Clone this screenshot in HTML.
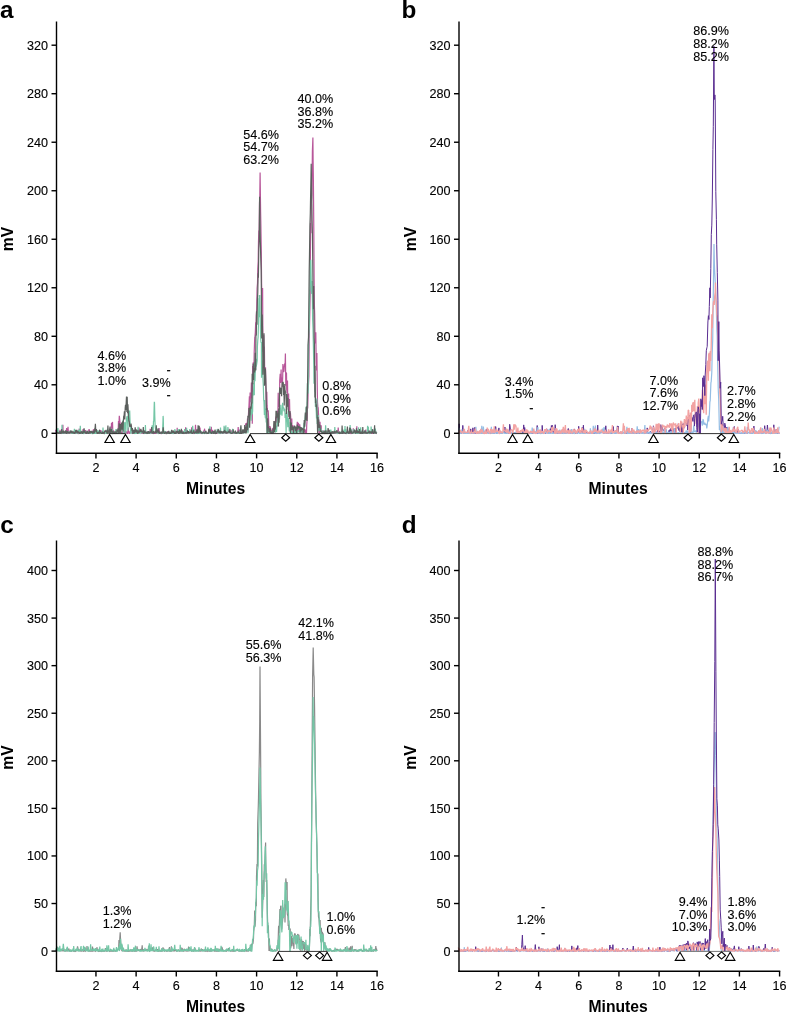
<!DOCTYPE html>
<html><head><meta charset="utf-8"><style>
html,body{margin:0;padding:0;background:#fff;}
svg{display:block;will-change:transform;filter:blur(0.3px);}
.t{font-family:"Liberation Sans", sans-serif;font-size:12.6px;fill:#000;stroke:#000;stroke-width:0.12px;}
.b{font-family:"Liberation Sans", sans-serif;font-size:15.7px;font-weight:bold;fill:#000;}
.L{font-family:"Liberation Sans", sans-serif;font-size:24.3px;font-weight:bold;fill:#000;}
</style></head><body>
<svg width="787" height="1013" viewBox="0 0 787 1013">
<rect width="787" height="1013" fill="#fff"/>
<path d="M55.7,429.7 56.1,433.3 56.5,433.3 56.8,432.9 57.1,432.0 57.6,432.5 57.8,433.3 58.2,432.9 58.7,433.1 59.0,432.1 59.3,433.3 59.7,432.3 60.0,429.8 60.3,431.8 60.6,433.3 61.1,433.1 61.4,433.3 61.8,431.7 62.2,433.3 62.5,431.8 62.9,424.7 63.1,433.0 63.5,433.3 63.8,433.2 64.2,431.6 64.6,432.6 64.8,432.9 65.3,433.3 65.7,433.0 65.9,432.3 66.3,432.2 66.6,428.0 66.9,432.7 67.4,433.2 67.7,432.4 68.0,426.7 68.4,432.8 68.7,433.3 69.2,433.2 69.4,430.9 69.7,433.3 70.1,431.7 70.5,431.0 70.8,432.3 71.3,433.3 71.6,433.3 71.9,432.6 72.1,433.3 72.5,431.7 73.1,433.0 73.3,433.0 73.7,431.7 73.9,433.3 74.3,433.3 74.8,433.0 75.1,433.3 75.4,433.3 75.7,433.3 76.0,433.0 76.4,432.9 76.7,432.9 77.2,433.3 77.5,432.3 77.8,433.0 78.3,432.5 78.5,433.3 78.8,431.7 79.3,428.7 79.7,431.9 79.9,431.8 80.4,433.2 80.6,433.3 80.9,432.9 81.2,432.7 81.7,433.2 82.1,432.6 82.4,433.3 82.8,433.3 83.0,429.2 83.4,429.8 83.7,431.9 84.3,432.8 84.6,432.9 84.8,433.3 85.2,433.3 85.5,430.1 86.0,432.0 86.2,433.2 86.5,433.3 86.9,431.9 87.2,432.9 87.7,432.2 88.1,433.3 88.4,433.2 88.7,430.7 89.1,429.2 89.5,431.4 89.8,433.3 90.0,432.6 90.5,433.3 90.7,433.2 91.1,431.9 91.6,433.3 91.9,432.0 92.3,430.9 92.5,432.8 92.9,433.0 93.2,429.9 93.7,429.4 93.9,433.3 94.2,433.3 94.6,431.3 94.9,433.3 95.4,433.3 95.7,432.5 96.0,432.4 96.4,432.5 96.7,432.4 97.1,433.3 97.4,432.7 97.7,433.3 98.1,432.5 98.5,431.7 98.9,431.5 99.2,431.7 99.6,433.0 99.9,431.9 100.2,430.1 100.6,432.8 100.9,432.2 101.4,430.5 101.6,433.3 101.9,433.2 102.4,433.3 102.8,433.3 103.1,432.8 103.4,433.2 103.7,433.3 104.2,433.3 104.5,432.0 104.7,430.7 105.1,432.3 105.4,430.8 105.9,433.3 106.2,432.1 106.6,432.6 107.0,431.4 107.2,433.3 107.7,433.3 107.9,433.0 108.2,432.1 108.6,433.3 109.0,432.4 109.3,432.7 109.7,433.3 110.1,433.3 110.3,433.3 110.8,432.9 111.1,432.4 111.5,422.8 111.8,433.3 112.2,427.7 112.5,421.9 112.9,433.3 113.2,431.1 113.6,430.3 113.8,433.3 114.4,433.3 114.5,432.6 114.9,432.4 115.3,433.0 115.6,433.2 115.9,431.3 116.4,433.3 116.8,430.5 117.1,431.0 117.5,433.3 117.8,433.3 118.1,433.3 118.5,421.1 118.8,427.4 119.3,415.9 119.5,417.5 119.8,420.5 120.3,424.7 120.6,431.7 121.0,433.3 121.3,432.8 121.7,432.8 121.9,433.1 122.3,432.8 122.6,433.3 123.0,431.2 123.4,433.3 123.7,433.3 124.1,429.1 124.4,433.3 124.8,432.5 125.0,431.9 125.5,431.4 125.8,432.5 126.1,432.9 126.5,432.1 126.8,431.7 127.2,433.3 127.6,433.3 127.8,433.3 128.3,427.6 128.6,431.6 129.0,431.1 129.3,433.3 129.6,433.3 130.0,432.8 130.4,433.2 130.6,431.7 130.9,426.3 131.3,431.7 131.7,432.9 132.2,432.6 132.4,433.3 132.9,433.0 133.2,432.8 133.4,432.9 133.8,433.0 134.1,433.3 134.6,432.5 134.9,433.3 135.2,432.9 135.5,433.3 136.0,432.8 136.4,429.5 136.6,433.1 137.0,433.3 137.4,433.3 137.8,430.3 138.0,432.0 138.3,430.1 138.7,433.2 139.1,427.6 139.4,432.5 139.7,432.9 140.1,432.3 140.5,429.3 140.9,432.9 141.2,433.0 141.5,432.0 141.8,433.3 142.2,433.3 142.7,432.8 143.0,433.3 143.3,433.3 143.7,433.3 144.1,431.7 144.3,433.3 144.8,432.0 145.0,433.3 145.3,433.1 145.8,433.2 146.0,432.8 146.5,433.3 146.9,432.6 147.2,431.3 147.5,432.4 147.8,433.3 148.3,433.3 148.6,432.4 149.0,433.2 149.3,433.3 149.6,431.6 149.9,432.4 150.2,428.8 150.6,431.6 151.0,433.3 151.3,433.3 151.7,427.6 152.1,433.0 152.4,433.1 152.8,432.2 153.0,433.3 153.4,433.2 153.7,433.3 154.2,433.1 154.5,432.9 154.8,433.3 155.1,433.2 155.6,433.3 155.9,432.5 156.2,431.2 156.5,432.7 156.9,433.3 157.3,432.1 157.7,429.6 158.1,433.3 158.4,431.6 158.8,433.3 159.1,428.1 159.4,433.1 159.8,433.3 160.1,432.1 160.4,433.3 160.7,432.8 161.2,433.3 161.4,432.7 161.8,431.8 162.2,433.0 162.6,433.3 162.9,433.1 163.2,430.6 163.6,431.4 163.9,431.0 164.2,433.2 164.7,433.2 165.0,432.1 165.4,432.9 165.7,432.9 166.1,433.2 166.3,432.3 166.7,432.7 167.1,432.3 167.4,433.3 167.7,431.2 168.1,432.3 168.5,432.7 168.8,431.6 169.2,433.3 169.6,432.7 169.9,432.7 170.2,432.7 170.6,432.5 170.8,431.9 171.3,433.1 171.6,433.0 172.0,433.0 172.3,433.3 172.7,432.8 173.1,432.2 173.5,432.8 173.8,433.3 174.1,433.1 174.5,433.3 174.8,433.3 175.1,430.7 175.6,432.8 175.9,433.0 176.3,433.0 176.6,432.8 177.0,431.2 177.2,427.8 177.5,433.3 177.9,433.0 178.3,431.2 178.7,433.3 179.0,433.3 179.4,433.3 179.8,433.3 180.0,431.6 180.4,433.3 180.7,432.8 181.0,431.5 181.5,433.3 181.8,433.3 182.1,430.3 182.5,433.3 182.9,433.3 183.2,432.8 183.5,433.3 183.8,432.9 184.1,433.3 184.7,432.7 184.9,433.2 185.4,433.3 185.6,427.2 186.0,432.5 186.4,432.8 186.7,433.3 187.0,432.9 187.3,433.3 187.7,433.1 188.0,433.3 188.4,433.3 188.9,432.7 189.1,433.3 189.5,431.2 189.9,431.3 190.3,431.3 190.5,433.3 190.9,431.2 191.3,433.3 191.7,427.2 192.0,431.8 192.2,433.3 192.6,432.3 193.1,432.9 193.4,433.3 193.8,432.9 194.1,433.1 194.4,429.8 194.7,433.3 195.2,433.3 195.5,424.7 195.8,431.4 196.2,432.2 196.5,432.6 196.8,433.3 197.2,433.3 197.5,433.3 197.9,433.3 198.3,433.0 198.7,432.0 198.9,432.3 199.3,433.3 199.7,433.3 200.0,427.6 200.4,433.3 200.6,432.7 201.0,432.6 201.4,433.3 201.8,433.0 202.2,431.7 202.4,433.3 202.8,432.3 203.2,433.1 203.4,433.2 203.9,430.4 204.2,431.5 204.6,428.7 204.8,432.5 205.3,432.5 205.6,433.0 206.0,433.3 206.3,432.4 206.7,432.1 207.0,432.7 207.4,432.1 207.7,432.9 208.1,433.0 208.4,433.3 208.7,431.5 209.0,433.3 209.4,433.3 209.9,433.3 210.1,433.3 210.6,432.9 210.9,433.3 211.3,426.8 211.5,431.8 212.0,433.3 212.3,432.9 212.6,429.9 213.0,433.0 213.3,433.0 213.6,432.3 214.0,433.3 214.3,432.5 214.6,433.3 215.1,431.0 215.4,432.2 215.8,433.3 216.1,433.0 216.5,432.1 216.9,432.4 217.2,432.8 217.6,432.6 217.8,433.3 218.1,433.3 218.5,431.5 218.9,431.6 219.2,433.3 219.5,432.7 219.8,431.1 220.4,433.1 220.6,432.9 221.0,431.7 221.3,432.9 221.8,433.3 222.1,433.2 222.4,433.3 222.8,433.3 223.0,432.5 223.4,432.5 223.7,433.3 224.1,431.6 224.5,432.1 224.9,427.0 225.2,432.5 225.5,433.3 226.0,433.3 226.1,432.4 226.5,433.3 226.9,433.2 227.4,431.7 227.7,433.3 228.0,431.8 228.4,432.6 228.6,433.3 229.1,428.9 229.3,433.3 229.8,432.0 230.1,433.3 230.5,432.5 230.7,432.9 231.1,433.3 231.4,431.4 231.8,430.5 232.3,433.3 232.6,433.3 232.9,431.7 233.3,432.9 233.7,432.6 233.9,431.6 234.4,433.3 234.6,433.3 234.9,433.3 235.4,432.4 235.7,432.4 236.1,433.3 236.4,433.3 236.7,433.3 237.1,432.3 237.5,433.3 237.8,432.6 238.2,427.1 238.5,432.7 238.9,433.1 239.1,431.0 239.6,429.7 239.9,433.3 240.3,431.6 240.6,432.9 241.0,431.9 241.4,431.7 241.7,433.0 242.0,433.3 242.4,431.2 242.6,432.1 243.0,433.3 243.4,432.2 243.8,432.5 244.1,429.8 244.4,431.0 244.7,428.9 245.1,429.7 245.5,424.9 245.8,423.5 246.2,427.9 246.5,422.9 247.0,426.0 247.2,426.1 247.5,418.4 247.9,431.8 248.4,415.3 248.6,411.5 249.0,405.3 249.4,396.4 249.7,413.6 250.1,392.5 250.3,402.4 250.8,396.5 251.0,397.9 251.4,382.4 251.9,392.4 252.3,423.7 252.6,366.0 252.9,369.4 253.3,362.2 253.7,379.8 253.9,370.7 254.2,353.0 254.7,338.1 254.9,337.2 255.3,332.7 255.7,322.2 255.9,335.2 256.2,315.9 256.7,309.1 257.1,288.2 257.5,283.4 257.8,268.9 258.2,261.2 258.5,241.4 258.8,231.0 259.2,230.0 259.5,203.3 259.8,195.7 260.1,172.5 260.6,211.5 260.8,220.9 261.3,252.9 261.6,283.9 261.8,291.5 262.3,300.4 262.6,288.1 262.9,344.0 263.3,352.0 263.7,335.3 264.0,346.2 264.4,347.1 264.7,373.7 265.1,370.3 265.5,367.3 265.9,387.2 266.1,389.8 266.4,418.9 266.8,391.8 267.1,405.4 267.5,411.4 267.8,410.9 268.2,410.9 268.5,416.2 268.9,429.2 269.3,429.0 269.6,430.0 269.9,426.6 270.3,426.8 270.7,430.4 271.0,429.8 271.4,432.0 271.8,431.3 272.1,433.3 272.4,428.4 272.7,431.2 273.1,427.9 273.5,433.3 273.8,427.8 274.2,424.4 274.5,423.3 274.8,421.0 275.3,425.8 275.6,418.7 276.0,416.8 276.4,416.6 276.6,419.2 276.9,422.7 277.4,410.9 277.7,426.6 278.2,392.7 278.5,406.4 278.8,406.3 279.2,399.1 279.5,409.9 279.7,380.4 280.2,373.7 280.5,377.3 280.8,382.9 281.1,369.6 281.4,382.3 282.0,377.4 282.3,386.9 282.7,376.9 282.9,364.1 283.3,369.2 283.6,371.9 284.0,371.1 284.4,365.5 284.8,363.4 285.1,363.9 285.4,353.6 285.8,385.8 286.0,372.5 286.5,373.3 286.7,389.7 287.2,392.6 287.5,380.6 287.8,405.9 288.2,406.2 288.6,393.5 288.9,416.9 289.2,412.6 289.5,398.9 289.9,416.5 290.4,412.6 290.7,417.1 291.0,433.3 291.4,428.9 291.8,418.5 292.0,429.2 292.4,429.2 292.8,425.1 293.1,433.3 293.5,428.0 293.8,427.7 294.2,426.8 294.5,433.3 294.8,427.1 295.3,427.4 295.5,429.1 295.8,433.3 296.2,433.3 296.6,433.3 297.0,426.6 297.3,421.8 297.7,433.3 298.0,425.9 298.2,423.3 298.4,422.9 298.6,424.0 299.0,426.1 299.3,431.4 299.7,424.2 300.1,428.3 300.4,429.3 300.9,427.3 301.2,428.0 301.5,433.3 301.8,428.1 302.3,428.6 302.6,431.1 303.0,433.0 303.3,433.3 303.6,432.0 303.9,431.1 304.3,432.0 304.7,429.2 305.1,429.8 305.4,433.3 305.6,431.4 306.0,430.2 306.5,433.3 306.7,425.7 307.2,418.2 307.5,401.7 307.7,408.4 308.1,392.9 308.4,385.7 308.9,376.1 309.2,338.6 309.5,327.6 309.9,308.9 310.3,289.0 310.5,223.1 311.0,233.3 311.4,201.6 311.7,197.7 311.9,194.3 312.4,150.8 312.9,137.4 313.1,160.8 313.4,181.5 313.8,228.4 314.1,278.4 314.4,305.3 314.7,314.6 315.1,343.4 315.4,335.8 315.8,332.2 316.2,362.9 316.6,370.5 316.9,353.0 317.3,390.0 317.5,402.3 317.9,407.8 318.2,407.8 318.6,415.7 318.9,431.8 319.3,433.3 319.6,428.7 320.0,421.8 320.5,431.8 320.7,429.9 321.2,425.3 321.4,433.3 321.8,432.5 322.1,433.3 322.4,433.3 322.8,430.5 323.2,430.9 323.6,432.4 323.8,433.3 324.3,433.3 324.6,431.3 325.0,433.3 325.2,433.2 325.7,432.8 326.0,433.3 326.4,432.8 326.7,433.3 327.1,431.5 327.4,433.3 327.9,432.8 328.0,433.3 328.5,433.3 328.8,429.9 329.2,432.6 329.5,430.8 329.9,432.5 330.2,431.4 330.6,432.7 330.8,433.2 331.2,432.2 331.6,432.5 331.9,431.8 332.3,433.3 332.7,432.4 332.9,433.3 333.3,433.3 333.6,432.3 334.1,433.3 334.3,433.2 334.7,432.3 335.1,433.3 335.4,433.3 335.7,432.1 336.2,433.3 336.4,433.0 336.9,433.3 337.1,431.9 337.6,432.4 337.9,432.9 338.2,427.5 338.6,432.4 339.0,432.3 339.3,433.3 339.7,432.7 340.0,432.6 340.3,433.1 340.6,432.5 341.0,433.3 341.4,432.1 341.7,433.3 342.1,433.3 342.4,433.3 342.8,433.3 343.1,433.3 343.5,433.3 343.9,432.3 344.2,433.3 344.5,432.3 344.9,433.1 345.3,432.2 345.5,432.9 346.0,433.1 346.3,433.3 346.7,432.9 347.0,432.6 347.3,431.7 347.7,433.3 347.9,433.3 348.5,431.8 348.8,433.3 349.1,433.3 349.5,433.2 349.8,433.2 350.3,431.0 350.4,427.8 350.8,433.3 351.2,433.1 351.6,433.3 351.9,432.1 352.2,433.0 352.5,432.1 353.0,432.6 353.3,428.4 353.6,431.7 354.0,432.9 354.3,432.2 354.7,431.1 355.0,432.3 355.4,433.3 355.7,430.5 356.1,432.7 356.5,431.9 356.8,426.4 357.1,433.3 357.5,433.3 357.9,431.4 358.3,432.8 358.6,433.2 359.0,433.0 359.3,432.0 359.6,433.1 359.9,433.1 360.2,431.7 360.7,432.6 361.0,431.4 361.4,431.2 361.7,433.3 362.1,433.3 362.3,433.3 362.8,432.3 363.2,433.3 363.4,432.9 363.8,431.7 364.3,433.0 364.6,432.9 364.9,432.6 365.1,431.8 365.4,432.5 365.8,429.7 366.3,433.3 366.7,432.0 366.9,433.3 367.4,433.3 367.7,433.3 368.0,432.6 368.4,433.3 368.7,430.1 369.0,433.1 369.3,433.3 369.7,432.7 370.1,433.3 370.4,433.3 370.8,433.3 371.1,433.1 371.6,432.5 371.8,432.7 372.1,433.3 372.5,433.3 372.9,433.2 373.3,432.8 373.7,432.4 374.0,432.0 374.3,432.1 374.7,432.3 375.0,429.5 375.3,433.1 375.8,433.3 376.0,431.9 376.4,432.6 376.7,432.8" fill="none" stroke="#b8579a" stroke-width="1.2" stroke-linejoin="miter" stroke-miterlimit="2" opacity="1.0"/>
<path d="M55.7,433.3 56.2,433.1 56.4,432.7 56.8,431.5 57.2,429.8 57.5,432.1 57.9,428.0 58.2,431.9 58.7,432.9 59.0,433.0 59.2,432.1 59.7,433.3 59.9,433.3 60.3,432.5 60.7,432.0 61.0,432.4 61.4,431.3 61.8,430.8 62.0,424.7 62.4,433.3 62.8,433.3 63.2,431.8 63.6,433.3 63.9,432.5 64.1,432.9 64.6,432.2 64.9,431.4 65.3,433.3 65.6,432.6 65.9,433.0 66.4,433.3 66.7,433.3 67.1,432.9 67.3,432.1 67.6,432.7 68.1,432.3 68.3,431.4 68.8,432.6 69.0,433.3 69.5,431.7 69.8,433.2 70.1,432.0 70.4,432.6 70.9,430.8 71.3,432.1 71.6,433.3 71.9,433.3 72.3,433.0 72.6,433.3 73.0,433.3 73.4,432.1 73.6,432.2 73.9,433.3 74.4,428.9 74.8,432.1 75.0,433.3 75.5,430.9 75.8,433.3 76.2,431.5 76.4,433.2 76.9,432.9 77.2,433.3 77.5,431.2 77.9,433.1 78.2,430.9 78.5,430.6 78.9,430.4 79.3,433.3 79.7,433.3 79.9,433.0 80.3,425.8 80.7,433.3 81.1,433.3 81.4,432.5 81.6,432.5 82.1,433.3 82.4,431.7 82.7,431.2 83.0,432.8 83.4,433.3 83.7,432.7 84.2,433.3 84.5,432.8 84.9,432.5 85.1,431.8 85.6,433.0 85.9,431.9 86.3,432.6 86.6,433.3 86.9,432.8 87.2,433.3 87.7,433.2 87.9,431.8 88.4,432.6 88.6,432.5 89.0,432.6 89.4,433.3 89.8,431.5 90.1,433.1 90.5,432.3 90.9,433.1 91.2,433.3 91.6,432.0 91.8,431.3 92.1,433.3 92.5,433.2 92.8,433.3 93.2,432.9 93.7,431.6 94.0,432.0 94.2,433.3 94.7,433.3 95.1,431.1 95.4,433.3 95.7,433.3 96.0,433.3 96.4,430.8 96.7,433.3 97.2,432.4 97.4,430.4 97.7,432.1 98.2,431.6 98.4,430.8 98.8,433.1 99.1,433.3 99.4,431.6 99.8,432.7 100.3,433.3 100.6,433.1 100.9,433.3 101.2,433.1 101.7,432.6 102.0,431.7 102.4,433.3 102.7,432.7 103.0,427.6 103.3,433.3 103.8,431.1 104.0,432.8 104.4,433.3 104.8,432.9 105.1,432.2 105.5,432.9 105.9,433.3 106.2,433.3 106.7,433.3 106.8,431.4 107.2,429.6 107.7,432.7 107.9,433.0 108.4,433.0 108.6,431.4 109.0,433.2 109.4,432.4 109.7,433.3 110.1,430.2 110.4,430.3 110.7,432.1 111.0,433.0 111.4,433.0 111.7,431.2 112.2,428.7 112.5,432.7 112.8,433.3 113.2,432.8 113.5,431.7 113.9,432.6 114.3,431.6 114.5,432.8 115.0,432.1 115.3,433.3 115.6,432.4 116.0,429.0 116.3,431.7 116.7,433.3 117.0,433.3 117.3,432.3 117.7,433.0 118.0,433.0 118.6,433.3 118.8,433.3 119.1,431.7 119.5,431.0 119.9,431.5 120.3,432.7 120.5,430.4 120.8,428.8 121.2,426.5 121.5,427.9 121.9,430.0 122.3,427.4 122.6,430.2 123.1,419.9 123.4,432.3 123.6,433.3 124.1,431.3 124.4,424.5 124.9,422.1 125.0,429.3 125.5,423.1 125.8,433.3 126.1,424.5 126.4,419.4 126.9,416.8 127.2,416.4 127.5,420.0 128.0,430.6 128.3,413.5 128.8,410.5 129.4,421.3 129.7,410.4 130.1,422.9 130.4,426.3 130.8,433.3 131.1,433.3 131.4,428.0 131.7,430.7 132.1,430.9 132.4,429.8 132.8,430.0 133.1,431.9 133.5,433.3 133.9,433.3 134.3,433.3 134.6,433.3 134.9,433.3 135.3,433.3 135.5,433.3 135.9,432.2 136.4,433.3 136.6,433.3 137.0,432.4 137.4,433.3 137.6,432.5 138.1,426.7 138.5,432.5 138.7,433.1 139.1,433.3 139.5,433.0 139.8,433.2 140.0,433.3 140.4,431.9 140.9,433.3 141.1,432.7 141.5,432.7 141.8,432.5 142.3,431.3 142.7,433.0 142.9,432.0 143.3,432.1 143.7,432.6 143.9,433.0 144.4,433.3 144.8,432.9 145.1,433.3 145.4,425.0 145.8,433.3 146.2,433.2 146.4,432.4 146.7,433.3 147.3,433.3 147.5,431.6 147.8,433.3 148.3,433.0 148.6,433.3 149.0,433.3 149.3,431.5 149.7,433.1 150.0,433.3 150.4,431.8 150.7,432.8 151.1,433.0 151.4,432.8 151.6,433.3 152.2,425.2 152.5,430.6 152.7,432.5 153.1,433.3 153.5,421.1 153.8,420.9 154.1,408.4 154.3,401.8 154.5,402.6 154.8,416.3 155.2,426.8 155.6,429.5 155.9,431.3 156.3,431.5 156.7,432.7 157.0,432.6 157.4,432.8 157.7,432.1 157.9,432.7 158.3,433.3 158.7,432.5 159.1,431.8 159.3,433.3 159.7,432.4 160.2,433.3 160.5,432.4 160.9,432.3 161.1,432.2 161.5,432.9 161.9,432.2 162.2,433.3 162.5,433.3 162.9,423.0 163.1,415.9 163.3,419.0 163.6,433.3 164.0,433.3 164.4,433.3 164.6,432.0 165.0,431.1 165.4,433.0 165.7,433.0 166.2,432.6 166.4,431.8 166.8,432.7 167.1,432.8 167.5,433.3 167.7,433.0 168.2,432.6 168.6,431.7 168.9,431.8 169.2,433.1 169.5,433.3 169.8,432.8 170.2,432.8 170.6,431.7 171.0,433.3 171.3,433.3 171.7,431.5 171.9,433.3 172.4,433.3 172.8,431.7 173.0,433.1 173.3,433.3 173.8,432.0 174.1,432.4 174.4,433.3 174.9,429.0 175.1,433.2 175.5,431.3 175.9,433.3 176.2,433.3 176.6,431.4 176.8,433.3 177.2,432.3 177.6,432.7 178.0,429.2 178.4,433.1 178.6,432.0 179.0,430.6 179.3,429.0 179.7,432.5 180.1,433.3 180.4,433.3 180.7,433.1 181.2,433.1 181.4,433.3 181.8,433.1 182.1,433.0 182.6,432.9 182.9,433.3 183.3,431.5 183.5,431.9 183.9,433.3 184.3,432.5 184.6,429.1 184.9,432.5 185.4,433.3 185.6,433.3 186.0,433.2 186.3,432.4 186.6,427.9 187.0,432.4 187.4,433.3 187.8,432.5 188.2,432.5 188.5,432.0 188.8,433.0 189.1,432.9 189.6,432.6 189.8,429.0 190.1,432.8 190.5,431.8 190.8,433.3 191.3,433.3 191.5,433.3 191.9,433.3 192.3,432.1 192.7,425.7 193.0,431.5 193.3,432.6 193.7,432.6 194.0,429.4 194.4,432.6 194.8,431.3 195.1,432.7 195.4,433.3 195.9,433.3 196.2,431.7 196.6,433.1 197.0,433.3 197.1,432.8 197.6,433.3 197.8,432.5 198.3,432.6 198.5,433.0 199.0,433.3 199.4,433.3 199.7,432.1 200.0,433.3 200.4,430.8 200.8,432.8 201.0,431.6 201.3,431.0 201.7,433.2 202.1,433.3 202.4,433.3 202.9,432.9 203.1,433.3 203.4,433.3 203.7,431.7 204.2,432.7 204.5,432.3 204.9,433.1 205.3,433.2 205.6,433.0 205.9,433.3 206.4,433.2 206.6,432.4 207.0,433.3 207.2,432.6 207.7,433.3 208.0,433.3 208.5,432.5 208.7,432.3 209.2,433.3 209.4,430.8 209.9,426.3 210.1,433.3 210.5,433.3 210.8,432.5 211.2,432.6 211.5,433.3 211.9,433.2 212.3,433.2 212.5,432.5 212.9,431.1 213.4,432.6 213.6,433.3 214.0,432.2 214.4,432.0 214.6,433.3 215.0,432.3 215.4,433.1 215.8,432.3 216.0,433.3 216.4,431.3 216.9,432.7 217.1,429.2 217.6,431.6 217.9,430.6 218.2,433.1 218.5,432.7 218.9,433.3 219.3,433.3 219.6,431.8 220.0,433.2 220.3,433.2 220.5,427.6 220.9,433.3 221.4,432.9 221.7,433.0 222.1,432.8 222.5,432.7 222.8,432.4 223.1,433.3 223.5,432.5 223.7,432.6 224.1,425.8 224.5,432.2 224.9,433.0 225.1,431.9 225.5,433.3 225.8,425.4 226.3,432.8 226.5,432.7 227.0,432.3 227.2,432.5 227.6,431.6 227.9,427.0 228.3,431.1 228.8,433.3 229.1,431.5 229.4,433.3 229.8,432.1 230.1,433.1 230.5,433.2 230.7,433.3 231.1,431.9 231.5,433.1 231.9,433.0 232.3,433.3 232.6,428.9 233.0,431.6 233.1,432.5 233.5,431.5 233.9,431.7 234.3,433.3 234.6,433.2 235.0,433.3 235.3,433.1 235.7,432.8 236.1,433.0 236.5,432.7 236.7,433.3 237.2,432.7 237.4,433.3 237.8,433.2 238.2,432.3 238.4,431.9 238.8,433.3 239.2,433.3 239.5,433.3 239.8,432.3 240.2,430.6 240.6,426.6 240.9,431.4 241.2,432.6 241.7,432.3 242.0,432.6 242.3,430.6 242.8,431.0 243.1,433.3 243.4,431.1 243.8,429.9 244.0,433.3 244.4,430.7 244.9,433.3 245.2,430.1 245.4,429.6 245.8,433.3 246.3,425.0 246.5,426.2 247.0,429.6 247.2,425.3 247.6,425.3 247.9,433.3 248.4,423.4 248.7,420.8 249.1,420.9 249.3,416.6 249.8,414.1 250.0,414.6 250.4,410.8 250.8,408.9 251.2,420.7 251.4,398.6 251.7,404.5 252.2,414.3 252.6,411.3 252.9,391.7 253.1,392.8 253.5,395.5 253.8,383.2 254.3,395.2 254.6,362.1 255.0,381.2 255.3,370.6 255.8,369.4 256.1,358.7 256.2,366.7 256.6,364.6 257.2,360.4 257.4,346.4 257.8,339.9 258.1,337.2 258.5,321.7 258.9,298.3 259.1,317.2 259.3,295.0 259.5,304.8 259.8,295.0 260.1,311.3 260.6,336.2 261.0,342.7 261.4,342.0 261.5,377.7 261.9,360.4 262.2,366.3 262.7,369.0 263.0,380.2 263.3,385.4 263.7,399.6 264.0,402.0 264.4,414.9 264.7,400.1 265.0,414.1 265.4,418.1 265.7,408.4 266.2,422.6 266.4,414.6 266.9,433.0 267.2,428.4 267.7,433.3 267.8,427.7 268.3,433.3 268.6,430.9 268.9,431.1 269.3,432.2 269.6,431.2 270.1,431.1 270.3,433.0 270.7,432.0 271.0,432.5 271.4,432.9 271.8,432.1 272.2,431.3 272.5,433.1 272.9,432.9 273.1,430.9 273.6,431.4 273.8,431.5 274.2,430.5 274.6,430.0 274.9,429.6 275.2,431.7 275.6,432.5 276.0,425.8 276.3,431.4 276.6,431.5 277.0,424.0 277.4,418.0 277.7,425.2 278.1,420.8 278.3,422.2 278.7,421.2 279.2,410.9 279.5,419.4 279.8,413.0 280.2,408.3 280.5,414.7 280.8,404.7 281.1,414.0 281.4,411.3 282.0,415.6 282.3,409.6 282.6,402.8 283.0,407.0 283.2,407.9 283.7,407.9 284.0,411.3 284.3,409.4 284.8,408.9 285.1,418.1 285.4,413.3 285.8,418.7 286.1,433.0 286.4,413.2 286.9,411.2 287.2,414.2 287.5,421.6 287.8,427.3 288.3,417.7 288.6,425.8 288.8,421.7 289.3,431.5 289.6,428.3 289.9,427.3 290.3,429.0 290.6,433.3 291.0,430.1 291.4,431.4 291.8,433.3 292.0,433.3 292.4,432.7 292.8,433.3 293.0,433.1 293.4,431.4 293.8,433.3 294.2,433.3 294.5,431.4 294.9,428.2 295.3,432.1 295.5,431.8 295.9,433.3 296.3,431.7 296.6,431.6 297.0,431.6 297.2,433.3 297.7,433.3 298.0,431.0 298.3,430.2 298.7,431.5 299.0,430.9 299.4,431.5 299.8,428.9 300.1,432.5 300.5,430.0 300.8,432.6 301.1,431.6 301.5,430.5 301.9,429.9 302.2,431.4 302.5,433.3 302.8,429.8 303.3,427.2 303.6,428.0 304.0,422.7 304.4,427.5 304.6,423.9 305.0,417.7 305.5,413.6 305.8,416.0 306.1,406.4 306.3,408.3 306.8,412.4 307.1,403.4 307.4,383.2 307.7,391.8 308.2,393.5 308.6,343.7 308.8,334.9 309.3,327.5 309.6,289.7 309.9,291.6 310.3,263.0 310.5,262.8 310.8,259.8 311.3,285.2 311.7,293.9 312.1,281.0 312.4,302.0 312.6,318.8 313.0,328.3 313.4,346.6 313.8,367.2 314.0,383.7 314.5,372.2 314.8,391.5 315.2,392.2 315.4,406.8 315.8,404.4 316.3,412.9 316.5,418.4 316.8,398.6 317.2,424.1 317.6,416.5 317.9,424.4 318.2,415.0 318.7,424.7 318.9,430.6 319.3,430.5 319.7,429.5 320.0,425.5 320.5,431.1 320.7,428.4 321.1,432.2 321.4,429.6 321.9,433.3 322.2,432.2 322.4,432.6 322.9,430.8 323.2,433.1 323.4,433.0 324.0,432.6 324.2,433.3 324.6,430.3 324.9,432.9 325.3,433.1 325.6,425.2 326.0,431.9 326.3,431.6 326.6,433.0 327.0,433.3 327.3,431.9 327.9,432.7 328.1,433.0 328.5,433.0 328.8,432.2 329.2,431.2 329.5,433.1 329.8,433.2 330.1,432.2 330.5,432.0 330.8,429.7 331.3,432.9 331.5,431.7 331.9,433.2 332.3,433.3 332.7,432.3 333.0,432.5 333.4,432.4 333.7,432.7 334.1,433.0 334.5,433.3 334.8,427.0 335.2,431.9 335.5,432.9 335.8,432.9 336.2,432.9 336.4,433.3 336.8,431.6 337.3,433.3 337.5,433.2 338.0,433.1 338.2,433.2 338.6,431.9 338.9,432.5 339.3,432.2 339.7,432.8 340.0,432.7 340.3,433.3 340.8,433.3 341.1,433.3 341.4,431.2 341.8,432.2 342.0,433.2 342.4,431.9 342.9,433.3 343.1,433.0 343.6,432.5 343.9,429.5 344.3,430.5 344.7,433.0 345.0,426.0 345.2,432.5 345.7,429.0 346.0,432.9 346.3,431.2 346.7,433.3 347.0,433.3 347.3,431.9 347.7,433.3 348.0,431.9 348.5,433.3 348.7,432.7 349.1,432.2 349.4,433.1 349.7,432.6 350.1,425.1 350.5,432.7 350.7,430.2 351.1,432.5 351.6,429.4 351.9,431.9 352.3,433.3 352.5,433.3 353.0,433.3 353.2,432.4 353.6,430.9 354.0,429.2 354.4,433.3 354.7,432.2 355.0,433.3 355.4,431.2 355.8,432.4 356.0,433.3 356.5,433.3 356.9,433.3 357.2,430.1 357.5,433.3 357.8,433.3 358.2,433.3 358.6,427.4 358.8,433.3 359.2,431.9 359.5,431.9 360.0,433.3 360.3,432.5 360.7,427.4 361.0,433.3 361.3,431.5 361.8,433.2 362.0,433.0 362.4,432.7 362.7,431.9 363.2,432.9 363.4,433.1 363.9,431.8 364.1,432.1 364.5,431.4 364.9,433.3 365.1,431.5 365.5,432.7 365.8,432.7 366.2,433.1 366.6,433.3 367.0,433.3 367.2,432.9 367.6,425.9 368.0,432.4 368.4,426.8 368.7,433.3 369.1,433.3 369.4,431.8 369.8,432.5 370.2,433.3 370.4,433.3 370.9,432.9 371.1,426.5 371.6,432.8 371.9,430.8 372.3,431.1 372.6,431.6 372.8,429.6 373.2,433.0 373.5,432.5 374.0,433.3 374.4,433.1 374.6,432.2 375.1,433.2 375.3,428.5 375.7,431.6 376.1,433.3 376.4,432.3 376.8,433.3" fill="none" stroke="#74c6a6" stroke-width="1.2" stroke-linejoin="miter" stroke-miterlimit="2" opacity="1.0"/>
<path d="M55.9,432.8 56.2,433.1 56.6,433.3 56.8,433.1 57.1,432.0 57.6,433.3 57.9,432.5 58.1,433.3 58.7,433.3 59.1,433.3 59.3,431.7 59.7,432.2 59.9,431.5 60.3,433.3 60.8,433.3 61.0,431.3 61.4,433.3 61.7,429.1 62.2,432.9 62.4,432.9 62.7,431.4 63.2,433.3 63.6,430.7 63.9,432.0 64.2,433.2 64.7,431.8 64.8,433.2 65.3,431.4 65.7,430.4 65.9,431.1 66.2,433.3 66.7,433.3 67.0,431.7 67.4,431.9 67.7,431.7 68.0,432.9 68.5,432.8 68.7,432.5 69.0,432.8 69.5,433.3 69.8,432.1 70.1,433.3 70.5,430.6 70.8,432.7 71.1,432.7 71.6,431.9 72.0,430.7 72.3,433.3 72.6,431.8 73.0,433.2 73.4,431.6 73.7,432.4 74.0,433.3 74.3,433.3 74.7,431.9 75.1,433.2 75.3,432.7 75.8,429.9 76.1,432.6 76.3,431.6 76.8,429.9 77.1,433.2 77.6,430.8 77.8,433.3 78.3,432.4 78.6,432.1 78.9,431.5 79.2,433.3 79.7,432.9 79.9,433.3 80.3,433.3 80.7,432.8 81.0,431.5 81.3,432.3 81.7,433.3 82.0,430.9 82.4,433.3 82.8,433.3 83.2,432.4 83.4,432.0 83.8,432.6 84.1,428.2 84.5,432.5 85.0,432.0 85.3,431.9 85.6,432.1 85.9,433.2 86.3,433.3 86.6,433.3 87.0,430.8 87.3,431.3 87.7,432.1 88.0,433.3 88.4,433.3 88.8,433.1 89.0,433.0 89.5,430.9 89.7,432.8 90.1,433.3 90.4,431.1 90.8,432.0 91.2,432.4 91.5,432.3 91.8,431.5 92.3,431.8 92.5,432.7 92.9,433.3 93.4,432.4 93.6,430.6 94.0,431.8 94.3,433.3 94.7,428.8 95.1,427.8 95.4,423.7 95.8,431.2 96.0,432.1 96.4,429.1 96.7,431.4 97.1,433.3 97.5,433.3 97.8,432.1 98.1,433.3 98.5,432.8 98.8,433.3 99.2,433.3 99.5,429.7 100.0,432.4 100.2,432.3 100.6,432.7 101.0,432.1 101.3,433.3 101.8,433.3 101.9,433.3 102.4,433.3 102.7,432.2 103.0,432.5 103.3,433.3 103.8,432.9 104.2,433.3 104.5,432.5 104.8,431.0 105.1,431.5 105.4,430.5 105.8,431.7 106.1,430.7 106.5,431.1 106.9,433.1 107.3,433.3 107.6,431.2 107.9,425.6 108.2,430.5 108.7,432.1 108.9,433.3 109.3,433.1 109.6,429.5 110.1,426.6 110.5,432.7 110.7,433.0 111.1,432.4 111.5,429.1 111.8,432.4 112.0,430.9 112.5,432.8 112.8,431.5 113.3,433.3 113.7,431.3 113.9,433.3 114.2,433.3 114.6,432.1 115.0,432.3 115.4,431.9 115.6,432.3 116.0,432.3 116.4,433.3 116.8,432.3 117.0,429.5 117.4,430.4 117.8,431.1 118.1,428.3 118.4,433.3 118.9,429.0 119.2,423.3 119.4,433.3 119.7,425.8 120.1,424.1 120.5,425.2 120.8,433.3 121.2,427.6 121.6,423.5 122.0,422.5 122.4,429.4 122.7,421.2 123.0,431.4 123.4,420.9 123.7,416.2 124.1,415.7 124.4,411.4 124.8,419.4 125.2,408.0 125.5,404.9 125.8,410.0 126.1,404.5 126.5,396.6 126.9,412.1 127.2,396.7 127.6,413.2 127.9,404.2 128.4,413.1 128.5,416.6 129.0,421.6 129.2,421.0 129.7,426.3 130.0,426.9 130.3,425.6 130.7,426.8 131.0,423.6 131.4,425.8 131.7,428.9 132.1,431.2 132.4,428.0 132.8,433.3 133.2,433.2 133.5,431.5 133.8,429.9 134.2,433.3 134.6,431.7 134.8,431.7 135.2,427.3 135.6,432.2 136.1,430.7 136.3,430.2 136.7,430.6 136.9,432.2 137.4,433.2 137.7,433.3 138.0,430.4 138.3,433.3 138.7,432.6 139.2,430.8 139.5,431.9 139.9,432.2 140.1,429.9 140.5,431.8 140.9,428.9 141.2,431.3 141.6,430.4 141.8,431.7 142.3,432.6 142.5,431.1 143.0,431.8 143.3,427.1 143.6,433.1 144.1,432.8 144.3,433.2 144.6,430.5 145.1,432.4 145.4,433.2 145.7,432.6 146.0,432.2 146.5,432.5 146.8,433.3 147.2,433.3 147.5,431.5 147.8,433.2 148.3,433.1 148.5,431.0 148.9,433.0 149.3,433.2 149.7,431.7 149.9,432.9 150.3,432.4 150.6,431.9 151.1,431.9 151.3,432.6 151.7,427.0 152.1,433.3 152.3,432.1 152.7,433.1 153.0,433.3 153.5,431.2 153.7,432.4 154.1,433.3 154.5,432.6 154.9,433.3 155.2,430.9 155.5,433.0 156.0,431.0 156.3,425.2 156.6,433.3 156.9,432.0 157.4,430.7 157.6,431.6 158.1,428.4 158.4,433.3 158.6,430.6 159.1,433.3 159.4,431.5 159.6,433.3 160.1,433.3 160.5,432.9 160.8,433.0 161.1,431.7 161.4,432.4 161.9,433.3 162.1,433.2 162.6,433.0 162.9,430.8 163.2,427.2 163.6,431.9 163.9,432.0 164.2,433.3 164.7,433.1 165.0,433.3 165.4,432.7 165.6,431.7 166.1,432.8 166.4,433.0 166.7,433.3 167.2,431.9 167.5,432.9 167.8,432.8 168.1,433.2 168.6,433.3 168.7,430.8 169.3,433.3 169.6,433.3 169.8,432.6 170.3,432.7 170.6,433.3 171.0,433.3 171.4,432.0 171.6,429.8 172.0,432.8 172.4,432.4 172.8,433.0 173.1,430.3 173.3,432.2 173.8,431.2 174.0,432.5 174.4,433.3 174.7,433.3 175.1,431.9 175.5,433.3 175.8,433.3 176.3,431.0 176.5,433.3 177.0,432.2 177.3,433.1 177.5,431.5 177.9,431.7 178.2,431.0 178.6,433.3 179.0,433.3 179.3,433.2 179.8,429.9 180.1,431.9 180.3,433.3 180.7,430.8 181.2,433.3 181.4,428.9 181.7,433.0 182.1,433.1 182.5,433.3 182.8,433.3 183.1,432.0 183.5,432.3 183.9,433.3 184.3,433.2 184.7,433.2 185.0,432.5 185.2,433.3 185.6,432.3 186.0,433.3 186.4,433.2 186.6,432.6 187.1,431.5 187.4,430.4 187.7,432.0 188.1,433.3 188.5,431.1 188.9,433.3 189.1,432.6 189.4,433.3 189.8,431.8 190.1,433.0 190.5,431.5 190.9,433.1 191.2,429.9 191.6,431.9 192.0,433.3 192.4,433.3 192.6,433.3 193.1,432.7 193.3,431.5 193.6,430.5 194.0,432.2 194.3,433.0 194.7,432.6 195.1,433.1 195.4,431.4 195.9,433.0 196.1,432.6 196.5,432.8 196.8,429.4 197.3,431.4 197.6,433.3 197.9,429.3 198.1,425.3 198.6,432.1 198.9,433.3 199.2,425.8 199.6,431.6 200.0,431.9 200.4,430.4 200.6,431.2 201.1,433.0 201.4,433.2 201.8,433.1 202.1,433.3 202.5,432.2 202.9,433.3 203.1,431.7 203.6,432.8 203.9,432.2 204.2,433.1 204.4,433.3 204.9,432.6 205.3,433.3 205.7,430.9 205.9,431.2 206.2,432.7 206.7,432.9 207.0,433.3 207.3,433.3 207.7,433.3 208.0,433.3 208.3,433.3 208.8,428.7 209.2,431.6 209.5,431.6 209.8,432.7 210.1,429.2 210.4,432.7 210.8,432.9 211.3,432.6 211.5,433.3 212.0,433.3 212.2,431.3 212.5,432.4 212.9,431.3 213.3,432.3 213.6,433.3 214.1,433.3 214.3,430.8 214.7,432.9 215.1,429.6 215.4,433.3 215.7,433.3 216.1,433.3 216.5,433.3 216.8,431.9 217.2,431.7 217.5,432.3 217.8,430.6 218.2,429.4 218.6,429.7 218.9,432.9 219.3,430.7 219.6,431.9 219.9,433.3 220.3,430.8 220.7,432.6 220.9,433.2 221.3,431.8 221.7,432.2 222.0,431.8 222.3,432.1 222.7,433.3 223.1,432.6 223.4,431.2 223.8,432.3 224.1,433.3 224.5,430.1 224.8,430.6 225.3,432.4 225.6,432.1 225.9,431.2 226.2,432.7 226.7,433.3 227.0,432.2 227.4,433.3 227.7,432.6 228.0,433.0 228.4,430.8 228.7,432.4 229.0,431.8 229.5,432.2 229.7,432.9 230.0,429.3 230.4,433.3 230.9,432.4 231.1,433.3 231.5,433.3 231.9,433.3 232.1,433.3 232.5,432.5 232.8,433.3 233.2,429.4 233.5,432.9 234.0,431.9 234.3,433.3 234.6,432.1 235.0,432.8 235.4,430.6 235.8,433.3 236.0,433.3 236.4,433.3 236.8,432.7 237.2,433.1 237.5,432.9 237.8,432.9 238.1,430.9 238.5,433.3 238.8,432.7 239.3,433.2 239.6,433.3 239.8,433.3 240.3,433.3 240.6,429.9 240.9,425.4 241.3,433.3 241.6,433.3 242.0,432.8 242.3,433.3 242.8,429.3 243.1,433.3 243.5,431.6 243.7,430.7 244.0,429.7 244.5,433.0 244.7,425.0 245.1,433.3 245.6,426.9 245.9,432.7 246.1,433.3 246.5,430.6 246.9,423.6 247.2,429.5 247.6,430.0 247.9,415.8 248.3,416.3 248.7,417.4 249.0,407.9 249.3,410.1 249.6,427.7 250.1,413.6 250.4,406.6 250.7,409.0 251.1,408.2 251.5,402.6 251.9,403.5 252.2,373.8 252.4,381.2 252.9,384.2 253.2,363.4 253.6,380.0 253.9,368.4 254.3,368.5 254.7,372.5 254.9,362.1 255.2,352.8 255.7,370.5 255.9,334.9 256.3,335.6 256.6,311.3 257.0,324.7 257.4,300.1 257.8,292.2 258.1,273.3 258.4,277.7 258.8,248.9 259.2,239.8 259.6,196.7 260.3,239.8 260.6,252.1 260.8,258.7 261.2,270.4 261.7,338.4 262.0,316.9 262.2,314.6 262.6,334.8 262.9,374.8 263.4,351.5 263.8,365.4 264.0,333.3 264.4,385.7 264.8,376.1 265.1,384.4 265.4,368.6 265.9,384.4 266.2,400.4 266.4,409.9 266.9,408.0 267.2,433.3 267.6,418.2 267.9,421.1 268.3,427.3 268.6,427.8 268.9,432.1 269.3,428.2 269.7,432.8 270.0,428.6 270.4,428.9 270.7,432.8 271.0,432.7 271.5,433.3 271.8,431.7 272.1,433.3 272.3,433.3 272.7,433.2 273.1,428.7 273.5,433.3 273.9,421.0 274.2,427.7 274.5,432.1 275.0,421.6 275.2,429.6 275.6,426.4 276.0,410.8 276.3,418.3 276.7,411.0 277.0,412.2 277.2,417.4 277.7,413.4 278.1,420.0 278.5,426.5 278.7,408.4 279.1,422.8 279.5,391.5 279.8,387.2 280.2,390.9 280.6,394.0 280.9,391.3 281.2,387.7 281.6,396.2 281.8,388.6 282.3,382.2 282.6,382.5 283.0,382.0 283.3,383.2 283.6,395.1 283.9,386.1 284.2,405.6 284.8,384.1 285.0,390.2 285.4,391.2 285.8,392.1 286.1,400.1 286.4,414.0 286.8,394.1 287.1,395.4 287.5,406.7 287.9,398.1 288.2,409.1 288.6,411.5 288.9,413.1 289.2,415.9 289.6,418.9 290.0,411.0 290.4,433.3 290.6,424.9 291.0,423.5 291.3,422.5 291.7,430.1 292.0,426.0 292.4,429.9 292.8,426.7 293.1,427.8 293.5,433.3 293.7,429.3 294.1,427.1 294.5,425.6 294.8,427.0 295.2,427.0 295.5,431.3 296.0,426.7 296.2,427.1 296.6,433.3 296.9,428.2 297.3,424.6 297.6,427.4 297.9,429.1 298.3,426.2 298.8,427.6 299.1,427.2 299.5,426.8 299.7,426.6 300.0,433.3 300.5,427.4 300.9,427.5 301.1,431.3 301.5,428.6 302.0,428.1 302.2,429.3 302.5,429.4 302.8,428.4 303.3,433.3 303.6,432.5 304.0,433.3 304.2,420.1 304.7,426.8 305.1,421.4 305.3,412.5 305.6,413.7 306.1,420.3 306.3,407.7 306.8,406.8 307.0,420.9 307.4,394.2 307.8,367.1 308.0,344.9 308.5,337.3 308.8,310.1 309.2,272.0 309.5,254.6 309.9,226.7 310.3,213.8 310.5,201.6 311.0,175.7 311.2,163.8 311.7,191.9 312.1,221.1 312.4,233.1 312.7,256.2 313.1,293.9 313.4,309.3 313.7,286.1 314.1,337.7 314.4,343.6 314.9,397.6 315.1,365.7 315.5,403.0 315.8,400.3 316.1,407.0 316.5,404.5 317.0,411.2 317.3,421.3 317.6,433.3 318.0,417.1 318.4,423.8 318.7,419.5 319.0,428.0 319.3,424.3 319.7,426.1 320.0,425.4 320.3,430.9 320.8,432.0 321.1,431.1 321.4,431.2 321.8,431.6 322.2,433.3 322.6,433.3 322.8,433.3 323.3,431.9 323.5,433.3 323.9,431.5 324.2,431.8 324.6,433.3 324.9,433.3 325.4,430.5 325.7,432.8 326.0,430.4 326.3,433.3 326.6,433.3 327.0,433.3 327.4,433.2 327.7,432.4 328.1,428.0 328.4,430.3 328.9,432.3 329.1,429.7 329.5,433.3 329.8,433.3 330.1,432.1 330.6,433.1 330.8,432.1 331.2,432.9 331.6,433.3 332.0,433.3 332.2,431.2 332.6,433.3 332.9,431.7 333.3,433.3 333.7,432.8 334.1,430.9 334.4,433.3 334.8,431.1 335.2,432.3 335.4,431.5 335.9,432.6 336.1,432.5 336.6,431.7 336.9,430.1 337.3,431.9 337.5,432.7 338.0,431.7 338.2,433.3 338.6,432.5 339.0,433.3 339.4,433.3 339.7,431.7 340.0,432.2 340.2,433.3 340.7,433.1 341.1,433.1 341.3,433.3 341.8,433.0 342.1,425.6 342.5,433.3 342.8,433.3 343.2,431.8 343.5,431.6 343.9,432.4 344.3,433.3 344.4,432.7 344.9,433.3 345.4,433.3 345.5,432.6 346.0,433.3 346.3,432.7 346.7,432.9 346.9,433.3 347.4,426.5 347.8,432.9 348.1,431.7 348.4,432.9 348.8,433.3 349.1,433.3 349.4,430.8 349.8,427.6 350.2,433.3 350.5,428.2 350.8,433.3 351.3,431.5 351.5,431.4 351.8,433.0 352.2,433.2 352.7,432.8 352.9,432.8 353.3,432.4 353.7,433.3 353.9,431.5 354.4,430.3 354.8,430.6 355.0,431.4 355.4,433.2 355.7,433.1 356.2,432.1 356.4,428.4 356.8,433.3 357.1,430.8 357.5,431.1 357.8,433.1 358.3,432.7 358.5,432.9 358.8,431.0 359.2,432.8 359.6,429.0 359.9,433.3 360.2,433.3 360.7,433.3 361.0,431.5 361.3,433.3 361.7,431.6 362.0,433.3 362.5,433.3 362.8,427.1 363.1,433.0 363.3,432.2 363.8,433.1 364.2,433.0 364.5,433.3 364.8,430.3 365.1,432.5 365.6,431.4 365.8,433.3 366.2,433.2 366.5,432.8 367.0,432.7 367.2,433.1 367.6,432.9 368.0,432.9 368.3,432.5 368.7,432.4 369.0,430.7 369.5,433.3 369.8,432.4 370.1,433.0 370.4,431.3 370.8,433.3 371.2,431.4 371.5,433.3 371.8,433.0 372.3,432.5 372.5,429.2 372.8,431.4 373.3,432.6 373.6,433.3 373.9,433.3 374.3,431.1 374.6,425.2 374.9,433.2 375.3,431.8 375.8,432.7 376.0,432.5 376.4,433.3 376.8,433.3" fill="none" stroke="#5c605e" stroke-width="1.2" stroke-linejoin="miter" stroke-miterlimit="2" opacity="1.0"/>
<line x1="56.50" y1="21.50" x2="56.50" y2="453.90" stroke="#000" stroke-width="1.4"/>
<line x1="55.80" y1="453.20" x2="377.78" y2="453.20" stroke="#000" stroke-width="1.4"/>
<line x1="95.96" y1="453.20" x2="95.96" y2="458.40" stroke="#000" stroke-width="1.4"/>
<text x="95.96" y="472.30" text-anchor="middle" class="t">2</text>
<line x1="136.12" y1="453.20" x2="136.12" y2="458.40" stroke="#000" stroke-width="1.4"/>
<text x="136.12" y="472.30" text-anchor="middle" class="t">4</text>
<line x1="176.28" y1="453.20" x2="176.28" y2="458.40" stroke="#000" stroke-width="1.4"/>
<text x="176.28" y="472.30" text-anchor="middle" class="t">6</text>
<line x1="216.44" y1="453.20" x2="216.44" y2="458.40" stroke="#000" stroke-width="1.4"/>
<text x="216.44" y="472.30" text-anchor="middle" class="t">8</text>
<line x1="256.60" y1="453.20" x2="256.60" y2="458.40" stroke="#000" stroke-width="1.4"/>
<text x="256.60" y="472.30" text-anchor="middle" class="t">10</text>
<line x1="296.76" y1="453.20" x2="296.76" y2="458.40" stroke="#000" stroke-width="1.4"/>
<text x="296.76" y="472.30" text-anchor="middle" class="t">12</text>
<line x1="336.92" y1="453.20" x2="336.92" y2="458.40" stroke="#000" stroke-width="1.4"/>
<text x="336.92" y="472.30" text-anchor="middle" class="t">14</text>
<line x1="377.08" y1="453.20" x2="377.08" y2="458.40" stroke="#000" stroke-width="1.4"/>
<text x="377.08" y="472.30" text-anchor="middle" class="t">16</text>
<line x1="51.50" y1="433.30" x2="56.50" y2="433.30" stroke="#000" stroke-width="1.4"/>
<text x="47.90" y="437.80" text-anchor="end" class="t">0</text>
<line x1="51.50" y1="384.79" x2="56.50" y2="384.79" stroke="#000" stroke-width="1.4"/>
<text x="47.90" y="389.29" text-anchor="end" class="t">40</text>
<line x1="51.50" y1="336.28" x2="56.50" y2="336.28" stroke="#000" stroke-width="1.4"/>
<text x="47.90" y="340.78" text-anchor="end" class="t">80</text>
<line x1="51.50" y1="287.76" x2="56.50" y2="287.76" stroke="#000" stroke-width="1.4"/>
<text x="47.90" y="292.26" text-anchor="end" class="t">120</text>
<line x1="51.50" y1="239.25" x2="56.50" y2="239.25" stroke="#000" stroke-width="1.4"/>
<text x="47.90" y="243.75" text-anchor="end" class="t">160</text>
<line x1="51.50" y1="190.74" x2="56.50" y2="190.74" stroke="#000" stroke-width="1.4"/>
<text x="47.90" y="195.24" text-anchor="end" class="t">200</text>
<line x1="51.50" y1="142.23" x2="56.50" y2="142.23" stroke="#000" stroke-width="1.4"/>
<text x="47.90" y="146.73" text-anchor="end" class="t">240</text>
<line x1="51.50" y1="93.72" x2="56.50" y2="93.72" stroke="#000" stroke-width="1.4"/>
<text x="47.90" y="98.22" text-anchor="end" class="t">280</text>
<line x1="51.50" y1="45.20" x2="56.50" y2="45.20" stroke="#000" stroke-width="1.4"/>
<text x="47.90" y="49.70" text-anchor="end" class="t">320</text>
<text x="215.59" y="493.80" text-anchor="middle" class="b">Minutes</text>
<text transform="translate(13.10,239.05) rotate(-90)" text-anchor="middle" class="b">mV</text>
<text x="-0.10" y="18.00" class="L">a</text>
<line x1="109.61" y1="433.60" x2="125.48" y2="433.60" stroke="#333" stroke-width="1"/>
<line x1="250.17" y1="433.60" x2="330.90" y2="433.60" stroke="#333" stroke-width="1"/>
<path d="M109.61,434.50 L114.31,442.50 L104.91,442.50 Z" fill="#fff" stroke="#000" stroke-width="1.15"/>
<path d="M125.48,434.50 L130.18,442.50 L120.78,442.50 Z" fill="#fff" stroke="#000" stroke-width="1.15"/>
<path d="M250.17,434.50 L254.87,442.50 L245.47,442.50 Z" fill="#fff" stroke="#000" stroke-width="1.15"/>
<path d="M330.90,434.50 L335.60,442.50 L326.20,442.50 Z" fill="#fff" stroke="#000" stroke-width="1.15"/>
<path d="M285.72,434.10 L289.72,437.70 L285.72,441.30 L281.72,437.70 Z" fill="#fff" stroke="#000" stroke-width="1.15"/>
<path d="M318.85,434.10 L322.85,437.70 L318.85,441.30 L314.85,437.70 Z" fill="#fff" stroke="#000" stroke-width="1.15"/>
<text x="261.20" y="138.50" text-anchor="middle" class="t">54.6%</text>
<text x="261.20" y="151.20" text-anchor="middle" class="t">54.7%</text>
<text x="261.20" y="163.90" text-anchor="middle" class="t">63.2%</text>
<text x="315.40" y="102.80" text-anchor="middle" class="t">40.0%</text>
<text x="315.40" y="115.50" text-anchor="middle" class="t">36.8%</text>
<text x="315.40" y="128.20" text-anchor="middle" class="t">35.2%</text>
<text x="126.30" y="359.60" text-anchor="end" class="t">4.6%</text>
<text x="126.30" y="372.30" text-anchor="end" class="t">3.8%</text>
<text x="126.30" y="385.00" text-anchor="end" class="t">1.0%</text>
<text x="170.60" y="373.90" text-anchor="end" class="t">-</text>
<text x="170.60" y="386.60" text-anchor="end" class="t">3.9%</text>
<text x="170.60" y="399.30" text-anchor="end" class="t">-</text>
<text x="322.20" y="389.80" text-anchor="start" class="t">0.8%</text>
<text x="322.20" y="402.50" text-anchor="start" class="t">0.9%</text>
<text x="322.20" y="415.20" text-anchor="start" class="t">0.6%</text>
<path d="M458.4,432.4 458.8,433.0 459.2,423.8 459.7,433.2 460.3,433.1 460.9,432.6 461.2,432.9 461.7,433.3 462.4,432.3 462.8,425.4 463.3,433.0 463.8,433.3 464.2,432.8 464.8,433.2 465.2,433.3 465.8,433.3 466.3,432.3 466.9,433.0 467.3,433.0 467.9,430.4 468.2,432.5 468.8,433.3 469.3,432.6 469.9,433.3 470.4,432.2 470.7,428.9 471.4,433.3 471.7,433.3 472.3,433.3 472.9,427.8 473.4,433.3 473.9,432.2 474.3,433.3 474.9,427.3 475.3,433.3 475.7,433.3 476.2,432.4 476.8,433.3 477.4,433.0 477.8,433.3 478.4,433.2 478.7,433.1 479.4,433.3 479.8,433.3 480.4,432.7 480.9,432.5 481.4,433.2 481.8,433.3 482.2,432.8 482.8,433.2 483.2,433.3 483.8,433.3 484.4,433.3 484.7,433.0 485.4,433.3 485.7,432.3 486.3,429.3 486.8,432.4 487.2,432.4 487.8,433.1 488.4,433.3 488.8,433.3 489.3,432.9 489.9,433.3 490.3,433.3 490.7,433.3 491.2,432.9 491.9,433.3 492.3,433.2 492.7,432.8 493.4,433.2 493.7,432.9 494.4,432.7 494.7,433.3 495.4,426.7 495.8,426.6 496.2,433.3 496.9,433.0 497.2,432.8 497.8,433.2 498.4,433.0 498.9,427.9 499.3,433.3 499.9,433.3 500.3,433.1 500.8,433.2 501.2,432.9 501.9,433.1 502.2,433.3 502.9,432.2 503.2,432.6 503.7,431.3 504.4,432.8 504.9,427.0 505.2,432.8 505.7,432.7 506.2,433.3 506.9,432.7 507.4,432.8 507.9,433.3 508.4,433.3 508.9,432.7 509.2,433.3 509.7,424.3 510.2,427.0 510.8,433.3 511.4,433.3 511.8,433.3 512.2,433.3 512.8,433.3 513.4,432.4 513.8,433.3 514.3,432.4 514.7,433.3 515.4,433.2 515.7,432.3 516.4,433.3 516.7,433.1 517.4,433.0 517.8,433.1 518.4,433.3 518.8,433.3 519.4,433.3 519.8,433.3 520.2,433.2 520.9,432.6 521.4,433.3 521.9,433.3 522.4,432.9 522.7,430.4 523.4,433.2 523.7,424.9 524.2,432.5 524.7,427.5 525.3,433.0 525.7,433.3 526.2,433.3 526.8,433.3 527.2,433.3 527.8,433.0 528.4,433.3 528.7,433.1 529.4,433.3 529.9,432.6 530.4,433.3 530.9,433.3 531.4,433.3 531.7,433.3 532.2,433.3 532.9,433.0 533.2,433.3 533.8,432.7 534.3,432.7 534.9,432.8 535.2,433.3 535.8,433.3 536.4,432.9 536.8,433.3 537.2,425.5 537.7,433.3 538.2,432.1 538.8,433.3 539.2,433.3 539.8,432.5 540.4,433.3 540.8,433.3 541.3,433.3 541.9,433.3 542.2,425.4 542.8,433.0 543.4,433.3 543.8,432.9 544.3,432.4 544.7,433.2 545.3,433.3 545.8,433.3 546.4,433.1 546.7,428.8 547.4,432.4 547.9,433.0 548.3,432.9 548.8,433.3 549.2,432.2 549.9,433.3 550.3,428.7 550.7,433.3 551.4,425.5 551.9,429.9 552.4,425.4 552.9,432.3 553.2,428.5 553.8,432.2 554.3,433.3 554.8,432.6 555.2,424.7 555.9,433.3 556.3,433.0 556.8,433.3 557.4,433.3 557.7,432.8 558.2,433.3 558.9,430.8 559.3,433.3 559.8,432.5 560.4,433.3 560.9,432.4 561.4,433.3 561.7,433.3 562.4,433.2 562.7,433.0 563.3,433.1 563.9,432.5 564.4,433.3 564.7,432.7 565.3,433.0 565.7,433.2 566.4,433.3 566.7,433.0 567.2,432.9 567.8,429.7 568.3,428.5 568.9,432.9 569.2,432.6 569.9,432.7 570.3,433.3 570.9,433.3 571.3,433.3 571.7,432.7 572.3,433.2 572.9,433.3 573.4,432.9 573.8,432.9 574.3,428.9 574.9,433.0 575.2,433.3 575.9,433.3 576.3,433.3 576.9,432.1 577.2,433.3 577.7,433.3 578.2,432.8 578.7,426.3 579.4,432.6 579.9,433.3 580.2,433.2 580.8,432.7 581.4,432.1 581.9,430.6 582.2,427.5 582.9,433.3 583.4,425.2 583.9,433.3 584.3,433.3 584.8,433.0 585.2,433.3 585.8,432.0 586.2,432.9 586.7,432.2 587.3,433.3 587.7,432.9 588.3,433.3 588.7,433.2 589.3,433.3 589.7,433.3 590.4,432.8 590.9,433.3 591.4,432.1 591.9,433.3 592.4,432.7 592.8,433.0 593.4,433.3 593.7,433.3 594.3,433.3 594.9,433.2 595.4,427.2 595.9,433.3 596.2,433.3 596.7,432.8 597.2,433.1 597.7,425.1 598.3,433.0 598.9,432.9 599.2,433.3 599.9,433.0 600.2,432.3 600.7,433.0 601.4,432.9 601.7,432.3 602.3,432.1 602.9,432.9 603.3,432.5 603.7,433.3 604.4,433.3 604.8,432.2 605.3,430.5 605.8,425.8 606.4,433.3 606.7,433.3 607.2,433.3 607.9,433.3 608.2,433.3 608.9,433.3 609.4,433.1 609.8,431.9 610.4,433.3 610.9,433.3 611.4,433.3 611.8,433.3 612.3,433.3 612.9,429.0 613.4,426.6 613.7,432.8 614.4,432.9 614.8,432.5 615.3,433.3 615.8,432.7 616.3,433.2 616.8,432.6 617.4,425.9 617.9,432.2 618.2,426.1 618.7,433.2 619.3,432.6 619.9,433.3 620.3,432.5 620.8,433.1 621.4,433.3 621.9,432.3 622.2,432.5 622.7,433.3 623.3,432.7 623.8,433.0 624.2,433.3 624.8,433.3 625.4,433.3 625.9,433.3 626.2,433.1 626.9,433.3 627.2,431.7 627.9,433.3 628.3,429.8 628.9,432.0 629.4,433.3 629.9,432.8 630.3,432.7 630.8,433.3 631.2,433.3 631.9,432.7 632.2,428.0 632.7,433.3 633.3,432.4 633.8,433.3 634.2,433.3 634.8,432.3 635.2,432.9 635.7,433.0 636.3,433.3 636.9,433.3 637.3,433.3 637.8,432.8 638.4,433.1 638.8,430.5 639.4,433.2 639.8,433.2 640.4,432.6 640.8,432.9 641.3,431.9 641.8,433.0 642.4,432.7 642.8,433.3 643.4,432.5 643.9,432.6 644.4,433.3 644.8,431.8 645.4,433.3 645.8,431.7 646.2,433.3 646.9,431.9 647.2,427.9 647.7,433.3 648.4,433.3 648.7,433.3 649.3,433.3 649.8,431.8 650.2,431.6 650.8,431.6 651.3,433.3 651.7,433.3 652.3,433.3 652.9,430.4 653.4,425.8 653.8,428.0 654.4,432.3 654.8,431.3 655.3,433.3 655.8,433.3 656.3,432.3 656.9,432.0 657.3,432.3 657.9,424.0 658.2,431.8 658.7,430.6 659.3,433.3 659.7,431.3 660.2,433.3 660.8,424.7 661.4,433.3 661.8,431.4 662.2,426.1 662.7,429.6 663.4,430.5 663.9,429.7 664.4,428.5 664.7,432.1 665.2,431.8 665.7,430.0 666.2,429.7 666.7,433.3 667.4,433.3 667.8,433.3 668.4,433.3 668.9,430.5 669.3,433.3 669.9,429.6 670.3,431.1 670.8,428.4 671.4,433.3 671.7,433.3 672.2,429.3 672.8,430.6 673.2,433.3 673.7,428.6 674.3,433.3 674.9,433.3 675.3,427.9 675.8,433.3 676.3,428.4 676.7,428.6 677.2,427.8 677.7,428.2 678.4,423.3 678.8,430.4 679.4,428.3 679.8,431.5 680.4,430.8 680.8,422.4 681.3,433.3 681.8,425.2 682.4,423.9 682.7,433.3 683.3,423.5 683.7,428.5 684.4,425.4 684.8,420.8 685.4,422.5 685.8,420.5 686.4,425.4 686.7,419.6 687.2,419.4 687.7,430.0 688.2,422.3 688.8,418.2 689.2,422.8 689.9,415.0 690.4,433.3 690.9,427.5 691.4,417.2 691.7,420.0 692.2,417.5 692.9,421.4 693.4,415.6 693.9,414.8 694.4,426.1 M723.9,426.1 724.4,430.0 724.8,423.2 725.2,424.8 725.8,428.5 726.3,427.5 726.8,432.8 727.2,427.2 727.7,428.4 728.3,429.1 728.8,430.0 729.4,433.3 729.7,432.3 730.4,431.9 730.7,433.3 731.3,433.1 731.9,433.3 732.2,433.3 732.9,433.3 733.4,427.4 733.9,433.0 734.3,426.5 734.7,432.4 735.4,432.3 735.9,433.3 736.2,432.7 736.8,433.2 737.2,433.3 737.9,429.1 738.2,433.3 738.8,433.3 739.4,433.3 739.7,433.3 740.2,433.3 740.7,433.3 741.2,433.3 741.7,433.2 742.4,433.2 742.8,433.3 743.2,433.3 743.8,433.3 744.2,433.0 744.8,433.3 745.4,432.7 745.8,433.3 746.2,432.5 746.9,433.3 747.4,433.3 747.8,432.4 748.3,433.0 748.8,432.1 749.3,432.7 749.7,432.8 750.2,432.4 750.7,433.3 751.4,433.3 751.7,433.0 752.2,432.9 752.9,433.3 753.4,432.6 753.9,426.1 754.2,433.0 754.8,433.3 755.3,432.9 755.8,433.3 756.2,432.6 756.8,431.6 757.4,433.3 757.8,433.3 758.4,432.0 758.8,431.6 759.4,433.2 759.9,432.2 760.2,432.8 760.9,432.9 761.3,433.0 761.9,432.6 762.3,433.3 762.7,432.7 763.4,432.7 763.7,431.4 764.2,432.7 764.7,425.7 765.3,433.3 765.8,433.3 766.3,432.9 766.8,433.3 767.4,425.0 767.9,429.7 768.3,431.7 768.8,433.3 769.2,433.1 769.8,433.1 770.4,433.3 770.8,433.3 771.4,433.3 771.7,432.0 772.3,433.3 772.7,433.3 773.3,433.0 773.8,424.8 774.3,432.8 774.7,432.9 775.3,432.7 775.8,433.3 776.2,429.3 776.7,432.3 777.2,433.2 777.9,433.3 778.3,432.2 778.7,433.2 779.4,433.3" fill="none" stroke="#5a2d91" stroke-width="1.0" stroke-linejoin="miter" stroke-miterlimit="2" opacity="1.0"/>
<path d="M458.3,433.0 458.7,432.3 459.2,427.7 459.8,433.0 460.3,433.3 460.9,432.8 461.4,433.3 461.9,429.2 462.2,432.5 462.8,432.4 463.3,433.2 463.7,432.9 464.3,432.1 464.7,433.1 465.2,433.3 465.9,433.3 466.3,433.3 466.7,433.0 467.3,433.3 467.9,433.3 468.3,432.3 468.7,433.0 469.2,433.3 469.8,433.3 470.4,432.6 470.8,433.2 471.4,433.2 471.8,433.3 472.4,432.8 472.8,432.8 473.3,432.6 473.8,432.2 474.2,432.0 474.9,432.4 475.4,432.3 475.9,426.7 476.3,432.8 476.7,433.3 477.2,432.7 477.8,432.5 478.3,433.3 478.7,432.8 479.4,433.3 479.9,433.1 480.4,433.1 480.9,433.3 481.3,433.1 481.8,425.9 482.2,433.3 482.9,433.2 483.4,426.5 483.9,433.3 484.4,431.9 484.8,430.8 485.4,433.3 485.9,432.6 486.3,433.2 486.8,432.6 487.3,433.2 487.8,433.2 488.3,433.3 488.7,432.3 489.2,433.3 489.7,433.3 490.3,432.7 490.8,433.3 491.4,426.7 491.7,433.3 492.3,433.2 492.8,433.1 493.2,433.3 493.9,432.1 494.3,433.3 494.9,428.9 495.4,432.7 495.9,432.8 496.4,432.7 496.9,433.3 497.2,433.3 497.9,432.3 498.2,432.3 498.7,432.7 499.4,432.9 499.9,433.3 500.4,433.2 500.7,433.3 501.4,431.9 501.8,433.2 502.3,433.3 502.9,433.3 503.2,432.9 503.7,431.3 504.2,432.5 504.7,433.3 505.4,433.1 505.7,433.3 506.4,433.1 506.8,433.0 507.2,432.7 507.9,432.8 508.2,433.3 508.7,430.0 509.3,433.2 509.8,432.6 510.3,433.1 510.9,433.1 511.3,433.3 511.8,432.8 512.3,432.8 512.7,433.1 513.2,433.2 513.9,432.5 514.4,432.7 514.9,433.2 515.2,433.3 515.8,432.4 516.3,432.9 516.8,433.0 517.2,433.3 517.9,433.3 518.4,433.3 518.7,433.2 519.4,433.3 519.8,433.3 520.3,432.9 520.7,432.9 521.4,433.3 521.8,433.2 522.2,433.3 522.7,433.3 523.4,433.2 523.7,433.2 524.3,432.8 524.9,433.0 525.2,432.6 525.8,432.0 526.3,432.9 526.7,432.7 527.4,433.2 527.7,432.0 528.4,432.6 528.7,433.3 529.3,432.9 529.7,433.3 530.4,433.3 530.9,433.3 531.2,432.7 531.8,433.3 532.2,427.6 532.8,433.1 533.2,432.3 533.8,433.3 534.2,432.3 534.8,431.6 535.4,433.3 535.7,433.3 536.2,431.0 536.9,432.8 537.2,432.3 537.9,427.0 538.4,433.3 538.7,433.1 539.3,433.1 539.9,432.8 540.2,433.3 540.9,432.3 541.4,433.2 541.7,432.8 542.2,433.3 542.9,432.9 543.2,432.9 543.8,432.2 544.2,432.7 544.7,431.9 545.2,432.1 545.9,432.8 546.2,431.7 546.7,432.3 547.3,432.7 547.7,433.3 548.3,433.3 548.7,433.3 549.2,429.1 549.8,433.0 550.4,433.3 550.9,433.3 551.2,433.2 551.8,432.2 552.4,433.2 552.8,433.1 553.4,433.3 553.9,433.3 554.2,433.3 554.8,432.7 555.3,433.0 555.7,433.3 556.4,433.3 556.9,432.2 557.2,432.9 557.9,431.7 558.2,433.1 558.8,432.4 559.2,433.0 559.8,429.5 560.3,432.0 560.8,432.2 561.3,433.3 561.8,433.3 562.4,432.9 562.8,432.8 563.2,432.6 563.8,433.3 564.2,432.7 564.8,433.3 565.2,433.0 565.8,432.5 566.2,433.3 566.7,433.3 567.3,433.2 567.7,433.2 568.2,433.3 568.9,433.3 569.2,433.0 569.8,433.3 570.3,433.3 570.9,429.7 571.2,432.9 571.7,429.2 572.3,432.0 572.9,433.3 573.2,433.3 573.9,432.1 574.3,433.3 574.7,432.9 575.3,432.4 575.8,432.8 576.3,433.2 576.7,432.9 577.3,433.3 577.8,432.7 578.2,432.7 578.7,433.0 579.3,433.3 579.8,433.3 580.2,433.3 580.9,433.3 581.2,432.5 581.7,432.9 582.3,433.1 582.7,433.0 583.4,433.2 583.9,433.3 584.2,433.1 584.8,428.9 585.2,433.3 585.7,433.3 586.4,433.2 586.9,433.1 587.2,433.3 587.7,433.0 588.3,432.5 588.8,432.8 589.4,432.6 589.9,432.8 590.4,428.3 590.8,432.7 591.3,433.3 591.9,433.0 592.3,433.3 592.8,433.3 593.3,425.9 593.8,433.3 594.3,431.9 594.9,433.3 595.4,425.6 595.7,432.5 596.4,430.5 596.9,433.3 597.2,433.1 597.8,433.3 598.2,432.5 598.9,432.7 599.4,433.3 599.8,432.9 600.3,433.1 600.8,432.7 601.4,432.3 601.7,432.4 602.4,428.5 602.7,430.8 603.4,432.7 603.9,427.3 604.3,427.7 604.9,433.3 605.3,433.3 605.8,432.9 606.3,433.0 606.7,432.8 607.2,432.6 607.8,433.2 608.4,432.8 608.7,432.9 609.3,433.2 609.9,432.2 610.4,433.3 610.9,432.9 611.4,432.3 611.8,433.2 612.3,432.1 612.9,432.3 613.2,433.0 613.9,432.6 614.4,433.3 614.9,433.1 615.3,430.5 615.9,433.0 616.4,433.3 616.7,432.8 617.2,432.3 617.7,433.1 618.4,433.3 618.7,432.7 619.2,432.6 619.8,432.7 620.2,432.5 620.7,432.1 621.4,433.3 621.8,433.1 622.4,431.3 622.8,433.3 623.3,431.9 623.8,433.3 624.2,431.7 624.8,433.3 625.3,433.3 625.8,432.5 626.3,432.5 626.9,426.8 627.3,432.9 627.7,433.3 628.4,432.4 628.7,433.3 629.2,433.3 629.9,433.3 630.4,433.3 630.7,432.4 631.4,432.7 631.7,433.3 632.3,433.0 632.8,432.7 633.3,431.5 633.8,432.3 634.2,433.1 634.9,432.2 635.2,433.3 635.7,433.3 636.2,432.9 636.7,432.8 637.2,426.3 637.9,433.3 638.2,433.3 638.8,429.0 639.4,432.2 639.7,432.7 640.3,433.1 640.9,432.9 641.3,432.1 641.8,433.3 642.3,433.3 642.9,432.5 643.4,433.1 643.8,432.4 644.2,432.3 644.9,425.0 645.2,433.3 645.9,433.0 646.4,433.3 646.8,433.0 647.2,431.7 647.8,433.3 648.2,432.2 648.7,433.0 649.4,432.8 649.9,432.4 650.2,433.3 650.8,432.7 651.3,433.2 651.7,433.3 652.4,433.2 652.7,433.3 653.2,432.7 653.9,432.3 654.3,433.3 654.9,433.3 655.2,432.3 655.8,432.8 656.4,432.7 656.8,433.3 657.4,433.3 657.7,433.1 658.4,433.2 658.8,433.0 659.2,433.2 659.8,432.3 660.2,433.3 660.9,432.5 661.3,433.1 661.9,432.1 662.4,432.2 662.9,432.9 663.2,433.3 663.8,432.8 664.4,429.1 664.7,432.6 665.2,433.0 665.9,433.3 666.2,429.8 666.8,432.3 667.2,433.3 667.9,433.1 668.2,432.8 668.8,431.7 669.2,432.8 669.7,432.6 670.2,433.3 670.8,432.7 671.2,431.1 671.8,433.3 672.2,432.6 672.9,433.3 673.2,431.8 673.8,433.3 674.3,428.5 674.9,432.3 675.4,433.0 675.9,433.2 676.2,433.3 676.8,433.3 677.2,432.9 677.9,432.9 678.2,433.3 678.8,432.6 679.4,432.9 679.8,433.3 680.4,433.3 680.8,432.9 681.2,433.3 681.8,432.8 682.3,433.3 682.8,433.3 683.4,432.6 683.9,433.3 684.2,432.4 684.7,433.3 685.2,433.1 685.7,432.6 686.2,430.3 686.8,432.5 687.3,432.7 687.7,430.3 688.4,433.3 688.7,433.2 689.4,433.3 689.7,432.7 690.4,426.7 690.9,426.4 691.2,432.4 691.9,432.4 692.3,433.3 692.9,431.9 693.2,432.1 693.7,425.6 694.3,431.5 694.8,431.7 695.2,431.8 695.8,430.5 696.3,432.0 696.7,432.6 697.3,430.5 697.7,428.8 698.4,426.7 698.8,423.1 699.3,422.9 699.8,422.6 700.3,427.0 700.8,421.5 701.4,422.9 701.9,421.0 702.3,425.6 703.0,419.7 703.4,419.9 703.9,424.6 704.3,423.5 704.8,423.2 705.2,424.9 705.7,423.7 706.4,425.0 706.8,428.5 707.4,423.7 707.9,418.6 708.4,415.8 708.7,421.4 709.4,413.2 709.9,401.6 710.2,401.0 710.9,382.9 711.2,381.7 711.8,372.3 712.2,352.9 712.7,339.9 713.2,300.9 714.0,244.0 714.4,264.9 714.8,273.9 715.4,284.9 715.7,292.0 716.2,303.9 716.9,330.6 717.2,335.9 717.7,365.3 718.2,388.3 718.7,399.3 719.4,430.1 719.7,425.8 720.4,430.8 720.8,433.3 721.2,432.7 721.8,433.3 722.2,433.0 722.8,426.2 723.4,432.9 723.8,433.1 724.4,433.0 724.9,431.8 725.4,433.1 725.9,433.3 726.3,432.7 726.8,433.3 727.3,432.1 727.9,426.8 728.4,432.9 728.8,432.2 729.3,432.6 729.7,433.1 730.3,433.0 730.7,433.2 731.3,433.0 731.7,432.9 732.2,432.9 732.9,432.6 733.3,432.9 733.8,428.7 734.2,433.3 734.8,432.9 735.4,433.2 735.8,432.6 736.4,433.2 736.7,432.6 737.4,433.2 737.8,433.3 738.2,433.3 738.7,432.2 739.2,433.3 739.8,433.2 740.4,433.1 740.7,433.1 741.3,433.3 741.9,432.5 742.4,433.3 742.9,433.0 743.2,433.3 743.8,433.3 744.2,432.3 744.8,432.3 745.3,432.6 745.9,433.1 746.3,433.3 746.8,433.0 747.3,426.7 747.9,433.0 748.4,432.8 748.7,432.5 749.4,433.1 749.7,433.2 750.4,433.0 750.8,433.2 751.4,433.3 751.7,432.9 752.2,432.9 752.9,433.3 753.2,433.1 753.7,433.0 754.3,430.5 754.7,432.6 755.4,432.4 755.8,430.0 756.4,433.1 756.9,432.1 757.4,433.0 757.9,433.3 758.2,433.3 758.7,433.3 759.2,432.8 759.7,432.8 760.3,428.7 760.7,432.8 761.2,433.3 761.7,432.5 762.2,428.0 762.8,432.4 763.2,433.2 763.8,433.3 764.4,432.3 764.9,432.6 765.3,433.2 765.9,433.3 766.2,432.0 766.9,432.6 767.4,429.8 767.9,433.3 768.2,432.8 768.8,431.4 769.4,433.1 769.9,432.8 770.4,432.5 770.7,433.3 771.4,432.5 771.9,432.0 772.3,433.3 772.8,432.9 773.2,433.1 773.7,432.2 774.2,433.3 774.7,433.3 775.4,432.5 775.7,433.3 776.2,433.3 776.7,433.3 777.2,432.7 777.9,432.8 778.4,433.3 778.8,429.5 779.2,426.6" fill="none" stroke="#94bde4" stroke-width="1.2" stroke-linejoin="miter" stroke-miterlimit="2" opacity="1.0"/>
<path d="M458.4,431.3 458.8,431.4 459.4,433.3 459.7,430.8 460.3,430.0 460.9,432.4 461.3,431.5 461.7,431.6 462.4,432.8 462.9,433.3 463.2,431.9 463.9,430.2 464.4,428.9 464.7,432.5 465.4,432.0 465.9,432.3 466.2,432.6 466.7,432.1 467.4,432.2 467.8,431.9 468.3,429.7 468.8,425.9 469.3,433.3 469.7,432.3 470.2,433.2 470.8,432.7 471.4,429.8 471.8,432.2 472.3,432.5 472.7,433.1 473.4,432.9 473.7,432.5 474.4,431.6 474.8,431.8 475.3,428.5 475.8,432.4 476.2,432.3 476.7,433.3 477.3,433.2 477.7,430.9 478.2,433.3 478.7,432.3 479.4,433.3 479.9,430.0 480.3,433.3 480.8,428.9 481.4,432.5 481.7,430.4 482.3,430.2 482.7,432.0 483.3,433.2 483.9,432.8 484.4,433.3 484.7,432.7 485.3,430.3 485.7,433.3 486.4,433.3 486.7,433.3 487.2,427.5 487.7,432.0 488.3,428.9 488.9,432.3 489.3,432.8 489.8,433.2 490.2,430.8 490.7,429.4 491.3,429.6 491.8,433.3 492.4,430.6 492.8,429.9 493.2,430.5 493.7,432.9 494.3,426.4 494.7,432.2 495.4,432.0 495.9,431.8 496.4,430.1 496.7,429.5 497.4,431.7 497.7,431.1 498.2,431.1 498.9,433.1 499.2,433.3 499.9,429.9 500.4,433.0 500.8,431.2 501.3,432.0 501.9,432.4 502.4,432.6 502.7,433.3 503.4,424.2 503.8,428.7 504.2,430.6 504.9,430.9 505.4,431.5 505.9,431.8 506.4,429.9 506.7,428.7 507.2,432.6 507.9,429.4 508.4,431.8 508.7,433.3 509.4,431.8 509.7,433.3 510.4,433.3 510.8,430.3 511.2,429.6 511.7,429.9 512.3,430.2 512.8,433.3 513.4,429.5 513.8,424.4 514.3,429.7 514.8,424.4 515.4,425.3 515.7,425.9 516.0,425.6 516.3,432.1 516.8,429.8 517.2,433.3 517.9,427.5 518.3,433.3 518.9,431.1 519.2,433.3 519.8,433.3 520.4,430.2 520.9,432.4 521.4,431.1 521.8,429.8 522.4,431.6 522.8,429.5 523.3,429.8 523.9,431.8 524.4,432.2 524.7,433.3 525.4,431.3 525.9,430.2 526.3,433.2 526.7,429.2 527.3,432.8 527.7,430.3 528.4,432.3 528.8,433.3 529.3,433.3 529.9,432.3 530.2,430.9 530.7,431.4 531.3,432.8 531.8,431.8 532.3,431.6 532.7,432.0 533.2,433.3 533.8,428.7 534.4,433.3 534.7,431.7 535.3,432.6 535.7,433.3 536.4,433.0 536.9,431.8 537.2,432.9 537.9,430.1 538.2,430.5 538.9,433.1 539.2,429.7 539.7,430.6 540.2,429.4 540.7,433.3 541.3,432.2 541.7,431.2 542.2,432.6 542.7,430.9 543.4,433.3 543.8,433.1 544.4,432.5 544.8,429.2 545.3,431.8 545.8,429.6 546.4,429.3 546.8,430.9 547.4,433.3 547.8,431.5 548.2,431.2 548.8,430.3 549.2,431.4 549.8,431.5 550.3,431.1 550.9,432.2 551.4,432.9 551.7,427.4 552.3,431.7 552.9,426.5 553.4,429.2 553.7,431.2 554.3,430.5 554.9,433.3 555.3,433.3 555.9,428.1 556.2,433.3 556.9,428.5 557.3,431.5 557.9,432.0 558.2,433.3 558.7,431.7 559.2,430.6 559.8,432.8 560.2,432.9 560.8,430.7 561.3,433.3 561.7,430.0 562.2,429.6 562.7,432.3 563.3,426.7 563.9,433.1 564.2,432.0 564.8,429.6 565.4,425.1 565.8,433.3 566.2,430.7 566.9,433.3 567.4,430.1 567.9,430.6 568.2,430.5 568.8,433.3 569.2,433.3 569.9,429.5 570.2,432.5 570.9,430.5 571.2,433.2 571.7,432.0 572.4,433.1 572.9,431.8 573.2,430.0 573.7,429.5 574.2,432.0 574.9,429.4 575.4,433.3 575.7,430.1 576.3,433.3 576.7,431.4 577.2,432.7 577.7,429.1 578.4,431.4 578.7,430.6 579.3,428.1 579.7,432.9 580.3,430.1 580.8,433.0 581.3,430.8 581.7,428.4 582.4,428.5 582.9,432.0 583.3,431.8 583.8,432.8 584.3,429.8 584.8,432.7 585.4,433.3 585.8,430.0 586.3,430.5 586.9,431.3 587.3,432.4 587.7,432.3 588.3,433.0 588.9,433.3 589.3,433.0 589.7,431.5 590.3,432.2 590.9,430.4 591.3,432.4 591.7,433.3 592.2,433.3 592.9,431.0 593.2,432.4 593.8,431.5 594.3,428.5 594.7,431.8 595.4,428.6 595.7,431.6 596.4,431.0 596.9,432.4 597.4,430.8 597.8,433.1 598.3,430.4 598.7,430.2 599.2,432.1 599.8,431.0 600.2,432.4 600.9,430.5 601.2,429.9 601.7,430.0 602.4,432.3 602.9,433.3 603.3,431.9 603.9,432.2 604.4,432.4 604.9,433.3 605.3,429.9 605.8,432.4 606.3,433.3 606.9,431.7 607.4,432.6 607.9,433.3 608.4,430.1 608.9,429.5 609.2,433.3 609.7,432.2 610.2,431.4 610.7,432.3 611.3,429.0 611.7,432.1 612.4,425.0 612.7,433.3 613.4,431.9 613.7,431.2 614.4,432.6 614.8,430.7 615.2,432.0 615.7,430.4 616.4,431.3 616.9,431.0 617.4,433.3 617.7,426.7 618.3,433.1 618.8,433.3 619.2,433.3 619.9,433.3 620.4,432.4 620.9,431.2 621.2,432.4 621.8,433.2 622.2,432.4 622.7,432.1 623.4,423.3 623.7,430.6 624.4,425.8 624.7,433.0 625.4,432.6 625.7,433.3 626.4,430.0 626.7,431.7 627.2,429.8 627.8,428.1 628.3,430.5 628.7,432.7 629.2,427.9 629.8,433.0 630.2,430.9 630.9,432.8 631.4,432.9 631.8,433.1 632.3,428.0 632.7,430.6 633.3,432.0 633.9,429.7 634.4,431.9 634.7,433.3 635.2,431.5 635.9,433.3 636.2,431.7 636.8,430.5 637.2,432.0 637.9,432.3 638.2,430.9 638.9,431.3 639.2,430.7 639.7,432.9 640.4,429.4 640.7,433.3 641.4,430.4 641.7,432.2 642.4,430.3 642.7,430.4 643.3,430.2 643.9,430.3 644.2,433.3 644.8,429.7 645.4,432.4 645.7,433.3 646.3,430.3 646.9,429.1 647.4,431.3 647.9,430.8 648.3,431.2 648.9,428.8 649.2,429.5 649.9,426.9 650.3,425.5 650.8,429.4 651.3,426.5 651.7,429.1 652.4,433.3 652.8,430.1 653.3,430.7 653.7,426.6 654.4,433.3 654.8,430.4 655.4,431.7 655.8,428.2 656.2,423.7 656.8,430.2 657.2,428.2 657.7,423.9 658.3,432.6 658.8,423.2 659.4,425.4 659.7,424.4 660.4,433.3 660.8,433.3 661.2,433.3 661.8,431.5 662.3,425.1 662.8,425.1 663.3,426.1 663.9,427.1 664.3,425.7 664.9,427.5 665.2,433.3 665.7,426.0 666.3,427.4 666.9,428.2 667.3,424.5 667.7,426.4 668.3,425.7 668.9,427.1 669.3,427.2 669.8,423.1 670.3,425.2 670.8,423.9 671.4,429.6 671.7,423.4 672.4,428.6 672.8,433.3 673.3,422.5 673.8,424.3 674.4,424.2 674.8,424.8 675.3,426.5 675.7,423.4 676.2,433.3 676.8,425.0 677.2,427.0 677.7,425.4 678.4,425.0 678.7,423.1 679.3,427.7 679.9,427.1 680.4,432.4 680.7,420.8 681.3,422.7 681.8,421.5 682.3,427.4 682.8,425.0 683.4,433.3 683.7,426.3 684.4,419.0 684.9,427.2 685.2,419.8 685.8,422.5 686.3,415.6 686.9,425.0 687.2,420.1 687.9,416.4 688.2,410.4 688.7,409.9 689.2,433.3 689.9,421.8 690.4,412.6 690.8,432.2 691.4,423.3 691.7,404.7 692.3,411.9 692.8,402.9 693.3,402.7 693.7,411.3 694.3,408.4 694.8,399.7 695.3,416.9 695.8,414.9 696.3,424.1 696.8,420.1 697.4,406.0 697.8,433.3 698.2,402.7 698.8,398.5 699.2,405.6 699.8,412.9 700.4,410.1 700.8,406.1 701.4,400.4 701.8,405.9 702.4,389.7 702.9,401.4 703.3,410.0 703.7,413.2 704.4,385.5 704.8,397.5 705.2,404.1 705.8,384.6 706.2,414.7 706.8,370.0 707.2,363.6 707.7,360.7 708.4,380.7 708.7,354.1 709.4,352.9 709.9,371.2 710.3,351.0 710.7,361.0 711.2,346.6 711.8,314.2 712.3,328.2 712.7,312.4 713.3,303.0 713.7,301.0 714.2,304.9 714.7,296.3 715.2,292.4 715.5,282.6 715.8,296.8 716.2,300.2 716.9,315.8 717.3,315.8 717.8,332.1 718.4,352.6 718.9,360.7 719.2,360.8 719.8,392.5 720.3,400.3 720.8,421.0 721.3,432.2 721.9,423.8 722.3,424.2 722.9,429.0 723.3,430.2 723.8,431.3 724.3,429.8 724.9,427.7 725.2,433.3 725.7,432.5 726.4,428.2 726.9,432.8 727.2,431.8 727.9,431.8 728.3,433.3 728.7,433.1 729.2,426.8 729.7,433.0 730.3,430.9 730.9,430.5 731.3,432.9 731.9,431.6 732.2,431.5 732.7,429.5 733.4,431.8 733.9,427.1 734.2,431.7 734.7,429.0 735.3,430.2 735.9,431.6 736.2,432.8 736.7,430.6 737.2,428.3 737.8,426.8 738.4,433.3 738.7,431.4 739.4,431.1 739.8,431.4 740.2,431.2 740.8,431.0 741.2,430.7 741.8,430.2 742.4,430.5 742.7,431.9 743.3,432.8 743.9,430.9 744.2,432.2 744.8,426.4 745.2,429.7 745.7,431.7 746.3,431.9 746.7,433.3 747.3,430.5 747.9,429.6 748.2,422.5 748.7,429.7 749.4,429.8 749.9,433.1 750.3,432.7 750.9,430.4 751.2,430.9 751.7,428.1 752.4,432.9 752.7,429.2 753.3,428.7 753.8,431.3 754.2,430.0 754.7,433.3 755.4,433.3 755.7,431.4 756.2,432.9 756.8,433.3 757.4,433.3 757.8,432.3 758.3,432.3 758.9,430.2 759.4,433.3 759.8,433.2 760.4,430.9 760.7,427.4 761.2,432.7 761.7,430.6 762.2,432.9 762.7,431.7 763.4,431.9 763.9,432.2 764.2,428.8 764.8,431.3 765.4,431.9 765.9,433.3 766.2,433.2 766.8,431.9 767.4,431.8 767.7,432.7 768.2,433.0 768.9,432.7 769.3,432.3 769.9,427.6 770.2,433.3 770.7,427.6 771.4,429.2 771.8,431.0 772.3,431.2 772.9,433.3 773.2,433.3 773.7,427.6 774.3,432.6 774.8,433.3 775.2,432.3 775.8,432.1 776.4,429.3 776.9,433.3 777.2,430.3 777.9,427.4 778.2,432.3 778.8,432.2 779.4,433.3" fill="none" stroke="#f2a2a2" stroke-width="1.3" stroke-linejoin="miter" stroke-miterlimit="2" opacity="1.0"/>
<path d="M694.4,426.1 694.8,418.3 695.2,413.9 695.7,413.5 696.3,411.9 696.7,427.3 697.3,432.0 697.7,412.8 698.2,406.8 698.7,409.3 699.3,433.3 699.7,413.6 700.3,433.3 700.9,398.8 701.3,406.6 701.9,400.4 702.3,409.5 702.7,377.8 703.3,386.6 703.9,375.7 704.3,377.5 704.8,395.6 705.2,375.0 705.8,364.5 706.3,350.7 706.9,347.7 707.2,346.6 707.9,322.0 708.4,315.7 708.9,319.5 709.3,306.5 709.9,287.8 710.2,297.9 710.8,268.7 711.3,234.5 711.8,225.1 712.3,199.0 712.9,149.5 713.3,126.3 713.9,46.2 714.3,99.6 714.9,94.9 715.2,99.1 715.8,191.7 716.4,219.3 716.7,244.2 717.3,272.7 717.9,300.1 718.2,360.7 718.8,321.6 719.2,350.1 719.8,372.0 720.2,388.3 720.7,382.1 721.3,424.2 721.8,421.7 722.4,420.8 722.7,416.3 723.2,425.4 723.9,426.1" fill="none" stroke="#5a2d91" stroke-width="1.0" stroke-linejoin="miter" stroke-miterlimit="2" opacity="1.0"/>
<line x1="459.00" y1="21.50" x2="459.00" y2="453.90" stroke="#000" stroke-width="1.4"/>
<line x1="458.30" y1="453.20" x2="780.28" y2="453.20" stroke="#000" stroke-width="1.4"/>
<line x1="498.46" y1="453.20" x2="498.46" y2="458.40" stroke="#000" stroke-width="1.4"/>
<text x="498.46" y="472.30" text-anchor="middle" class="t">2</text>
<line x1="538.62" y1="453.20" x2="538.62" y2="458.40" stroke="#000" stroke-width="1.4"/>
<text x="538.62" y="472.30" text-anchor="middle" class="t">4</text>
<line x1="578.78" y1="453.20" x2="578.78" y2="458.40" stroke="#000" stroke-width="1.4"/>
<text x="578.78" y="472.30" text-anchor="middle" class="t">6</text>
<line x1="618.94" y1="453.20" x2="618.94" y2="458.40" stroke="#000" stroke-width="1.4"/>
<text x="618.94" y="472.30" text-anchor="middle" class="t">8</text>
<line x1="659.10" y1="453.20" x2="659.10" y2="458.40" stroke="#000" stroke-width="1.4"/>
<text x="659.10" y="472.30" text-anchor="middle" class="t">10</text>
<line x1="699.26" y1="453.20" x2="699.26" y2="458.40" stroke="#000" stroke-width="1.4"/>
<text x="699.26" y="472.30" text-anchor="middle" class="t">12</text>
<line x1="739.42" y1="453.20" x2="739.42" y2="458.40" stroke="#000" stroke-width="1.4"/>
<text x="739.42" y="472.30" text-anchor="middle" class="t">14</text>
<line x1="779.58" y1="453.20" x2="779.58" y2="458.40" stroke="#000" stroke-width="1.4"/>
<text x="779.58" y="472.30" text-anchor="middle" class="t">16</text>
<line x1="454.00" y1="433.30" x2="459.00" y2="433.30" stroke="#000" stroke-width="1.4"/>
<text x="450.40" y="437.80" text-anchor="end" class="t">0</text>
<line x1="454.00" y1="384.79" x2="459.00" y2="384.79" stroke="#000" stroke-width="1.4"/>
<text x="450.40" y="389.29" text-anchor="end" class="t">40</text>
<line x1="454.00" y1="336.28" x2="459.00" y2="336.28" stroke="#000" stroke-width="1.4"/>
<text x="450.40" y="340.78" text-anchor="end" class="t">80</text>
<line x1="454.00" y1="287.76" x2="459.00" y2="287.76" stroke="#000" stroke-width="1.4"/>
<text x="450.40" y="292.26" text-anchor="end" class="t">120</text>
<line x1="454.00" y1="239.25" x2="459.00" y2="239.25" stroke="#000" stroke-width="1.4"/>
<text x="450.40" y="243.75" text-anchor="end" class="t">160</text>
<line x1="454.00" y1="190.74" x2="459.00" y2="190.74" stroke="#000" stroke-width="1.4"/>
<text x="450.40" y="195.24" text-anchor="end" class="t">200</text>
<line x1="454.00" y1="142.23" x2="459.00" y2="142.23" stroke="#000" stroke-width="1.4"/>
<text x="450.40" y="146.73" text-anchor="end" class="t">240</text>
<line x1="454.00" y1="93.72" x2="459.00" y2="93.72" stroke="#000" stroke-width="1.4"/>
<text x="450.40" y="98.22" text-anchor="end" class="t">280</text>
<line x1="454.00" y1="45.20" x2="459.00" y2="45.20" stroke="#000" stroke-width="1.4"/>
<text x="450.40" y="49.70" text-anchor="end" class="t">320</text>
<text x="618.09" y="493.80" text-anchor="middle" class="b">Minutes</text>
<text transform="translate(415.60,239.05) rotate(-90)" text-anchor="middle" class="b">mV</text>
<text x="401.50" y="18.00" class="L">b</text>
<line x1="512.52" y1="433.60" x2="527.78" y2="433.60" stroke="#333" stroke-width="1"/>
<line x1="653.48" y1="433.60" x2="733.80" y2="433.60" stroke="#333" stroke-width="1"/>
<path d="M512.52,434.50 L517.22,442.50 L507.82,442.50 Z" fill="#fff" stroke="#000" stroke-width="1.15"/>
<path d="M527.78,434.50 L532.48,442.50 L523.08,442.50 Z" fill="#fff" stroke="#000" stroke-width="1.15"/>
<path d="M653.48,434.50 L658.18,442.50 L648.78,442.50 Z" fill="#fff" stroke="#000" stroke-width="1.15"/>
<path d="M733.80,434.50 L738.50,442.50 L729.10,442.50 Z" fill="#fff" stroke="#000" stroke-width="1.15"/>
<path d="M688.02,434.10 L692.02,437.70 L688.02,441.30 L684.02,437.70 Z" fill="#fff" stroke="#000" stroke-width="1.15"/>
<path d="M721.35,434.10 L725.35,437.70 L721.35,441.30 L717.35,437.70 Z" fill="#fff" stroke="#000" stroke-width="1.15"/>
<text x="711.10" y="35.10" text-anchor="middle" class="t">86.9%</text>
<text x="711.10" y="48.00" text-anchor="middle" class="t">88.2%</text>
<text x="711.10" y="60.90" text-anchor="middle" class="t">85.2%</text>
<text x="533.50" y="385.60" text-anchor="end" class="t">3.4%</text>
<text x="533.50" y="398.30" text-anchor="end" class="t">1.5%</text>
<text x="533.50" y="411.50" text-anchor="end" class="t">-</text>
<text x="678.20" y="384.60" text-anchor="end" class="t">7.0%</text>
<text x="678.20" y="397.40" text-anchor="end" class="t">7.6%</text>
<text x="678.20" y="410.20" text-anchor="end" class="t">12.7%</text>
<text x="727.00" y="395.30" text-anchor="start" class="t">2.7%</text>
<text x="727.00" y="408.00" text-anchor="start" class="t">2.8%</text>
<text x="727.00" y="420.60" text-anchor="start" class="t">2.2%</text>
<path d="M55.9,951.1 56.1,950.6 56.6,950.8 57.0,950.8 57.4,949.6 57.7,947.0 58.1,951.1 58.5,949.5 59.1,950.5 59.4,950.7 59.8,950.2 60.3,950.7 60.6,949.9 60.9,951.1 61.4,950.6 61.7,950.4 62.1,950.3 62.6,950.7 62.9,950.0 63.5,950.7 63.9,949.8 64.2,949.9 64.6,951.0 65.0,951.1 65.4,949.7 65.9,951.1 66.2,950.6 66.5,951.1 67.0,950.1 67.4,950.9 67.9,950.7 68.2,950.5 68.6,949.6 68.9,948.5 69.4,951.1 69.8,951.0 70.3,950.5 70.6,951.1 71.0,951.0 71.4,950.3 71.7,951.0 72.2,950.6 72.6,950.6 72.9,950.6 73.5,951.1 73.7,950.8 74.3,951.1 74.7,950.5 74.9,951.1 75.4,950.6 75.7,951.1 76.2,950.3 76.5,949.1 77.0,951.1 77.5,946.3 77.8,947.5 78.2,949.6 78.6,950.5 79.0,951.1 79.5,950.0 79.8,950.3 80.3,950.5 80.7,951.1 81.0,951.0 81.4,951.1 81.8,950.2 82.2,950.7 82.6,949.9 83.0,950.1 83.4,951.1 83.9,950.9 84.1,951.1 84.6,950.4 85.1,947.7 85.4,950.7 85.7,951.1 86.1,950.3 86.7,950.8 87.0,946.0 87.4,950.3 87.8,951.1 88.2,950.3 88.7,951.1 89.0,951.1 89.3,950.2 89.8,950.6 90.3,951.1 90.6,951.1 91.1,951.1 91.5,951.1 91.7,950.9 92.2,951.1 92.5,946.5 93.0,951.1 93.4,950.7 93.9,950.8 94.1,950.9 94.7,950.0 94.9,950.5 95.5,951.1 95.8,950.4 96.1,950.3 96.5,951.1 96.9,947.2 97.3,949.5 97.9,950.3 98.2,950.3 98.5,951.1 98.9,950.7 99.4,951.1 99.8,950.4 100.1,951.1 100.5,951.1 101.1,951.1 101.3,950.3 101.9,951.1 102.3,950.5 102.7,950.6 102.9,951.1 103.5,951.1 103.8,951.1 104.1,951.1 104.5,951.1 105.0,950.8 105.4,948.1 105.8,950.3 106.2,951.1 106.6,951.1 106.9,951.1 107.5,950.8 107.9,950.1 108.1,950.7 108.7,950.0 109.1,950.0 109.4,951.1 109.9,950.7 110.2,951.1 110.6,951.0 111.0,951.1 111.3,950.7 111.9,951.1 112.3,951.1 112.6,951.1 113.0,950.5 113.5,951.1 113.7,951.1 114.1,950.2 114.5,950.7 115.1,951.1 115.4,951.1 115.8,950.4 116.3,950.2 116.6,950.6 117.0,950.0 117.5,950.4 117.8,950.0 118.2,949.3 118.6,949.0 119.0,940.0 119.4,949.0 119.8,938.2 120.2,932.4 120.6,940.7 121.1,948.0 121.5,948.4 121.9,951.1 122.1,950.3 122.7,949.9 123.0,950.0 123.4,950.0 123.7,950.9 124.3,950.9 124.7,951.1 125.1,951.1 125.3,951.1 125.8,950.2 126.2,950.7 126.6,950.1 127.1,951.1 127.4,951.1 127.9,951.1 128.1,949.9 128.5,950.6 128.9,951.1 129.5,950.7 129.9,951.1 130.2,951.1 130.5,950.8 131.1,949.7 131.4,950.0 131.9,951.1 132.2,951.1 132.6,951.1 133.1,950.5 133.5,951.1 133.9,949.1 134.1,950.9 134.7,951.1 134.9,951.1 135.3,949.7 135.8,951.1 136.3,951.1 136.7,950.7 137.0,946.3 137.5,950.4 137.8,951.1 138.1,950.1 138.7,950.7 139.0,949.5 139.3,950.5 139.7,950.7 140.2,950.6 140.6,949.1 141.1,950.1 141.5,950.9 141.8,949.1 142.2,945.2 142.5,950.7 143.1,951.0 143.3,949.2 143.8,951.1 144.3,949.8 144.6,950.4 144.9,950.5 145.5,949.7 145.8,951.1 146.3,949.7 146.6,950.0 147.0,951.1 147.4,950.2 147.7,950.6 148.1,949.6 148.5,950.1 149.1,949.9 149.4,951.1 149.9,950.7 150.2,949.3 150.7,950.0 151.1,949.8 151.5,950.6 151.8,949.9 152.2,950.6 152.6,947.4 152.9,950.3 153.5,951.0 153.9,950.7 154.3,950.8 154.5,951.1 154.9,951.1 155.4,950.4 155.7,951.0 156.2,949.4 156.5,949.8 157.0,950.4 157.4,949.1 157.8,951.1 158.2,951.1 158.6,951.1 159.0,951.0 159.5,950.1 159.9,951.1 160.3,951.1 160.6,951.0 161.1,950.0 161.4,949.5 161.7,951.1 162.3,951.1 162.5,950.4 163.0,947.3 163.5,950.4 163.8,948.6 164.3,950.6 164.7,951.0 165.0,950.5 165.4,950.6 165.8,951.0 166.3,951.1 166.5,951.1 167.0,951.0 167.3,950.7 167.7,951.1 168.1,951.0 168.5,950.9 168.9,950.6 169.5,947.0 169.8,951.1 170.1,951.1 170.5,951.1 171.1,950.6 171.4,946.2 171.9,951.0 172.2,950.8 172.5,950.6 173.1,950.3 173.3,950.3 173.9,951.1 174.2,951.0 174.5,949.5 175.0,951.1 175.4,949.1 175.8,950.6 176.2,950.8 176.5,951.1 177.0,951.1 177.5,949.9 177.7,950.3 178.3,949.9 178.6,950.5 179.1,951.1 179.3,951.1 179.7,951.1 180.1,950.0 180.6,950.8 180.9,950.7 181.4,951.1 181.8,948.2 182.2,948.4 182.7,950.3 182.9,950.9 183.3,951.1 183.7,951.1 184.1,948.8 184.6,950.0 185.0,951.0 185.3,949.8 185.8,950.6 186.3,949.8 186.5,951.0 186.9,951.1 187.4,950.5 187.9,950.9 188.2,950.1 188.6,946.5 188.9,948.8 189.4,950.5 189.9,950.0 190.3,949.4 190.7,950.3 191.0,950.7 191.3,951.0 191.8,950.3 192.1,950.6 192.6,950.8 192.9,949.5 193.4,951.1 193.8,951.1 194.3,950.6 194.5,948.8 195.0,948.6 195.4,950.5 195.7,950.9 196.2,950.6 196.7,950.6 197.0,950.3 197.4,950.7 197.7,950.2 198.1,951.0 198.7,949.5 199.1,951.1 199.5,950.7 199.8,951.1 200.3,951.1 200.7,950.8 200.9,950.0 201.4,948.5 201.8,951.1 202.2,950.4 202.6,949.2 203.0,950.7 203.3,950.0 203.8,950.7 204.2,950.0 204.6,950.2 204.9,951.1 205.5,951.1 205.7,950.6 206.2,951.0 206.5,951.1 207.0,950.6 207.5,950.8 207.7,951.1 208.3,950.2 208.5,951.0 209.0,950.8 209.3,951.1 209.8,950.7 210.2,950.5 210.7,951.1 210.9,950.9 211.4,950.9 211.8,951.1 212.2,950.8 212.6,950.6 212.9,949.6 213.5,950.3 213.9,950.9 214.2,949.7 214.6,951.1 215.1,951.1 215.5,950.7 215.8,949.9 216.3,951.1 216.5,951.1 217.0,948.3 217.3,951.1 217.8,951.1 218.2,950.7 218.7,951.0 219.1,948.8 219.3,950.4 219.7,950.3 220.3,950.9 220.5,951.1 221.0,949.1 221.3,950.2 221.7,946.9 222.2,948.0 222.5,949.5 223.0,950.6 223.3,950.9 223.8,951.1 224.2,950.9 224.5,950.8 224.9,951.0 225.3,951.1 225.7,950.5 226.3,949.7 226.6,951.1 227.0,950.9 227.3,950.7 227.7,949.8 228.3,950.1 228.7,948.2 229.0,950.1 229.3,950.4 229.8,950.5 230.1,950.9 230.5,951.1 231.1,951.1 231.5,950.5 231.8,950.8 232.2,951.1 232.7,949.6 233.1,949.5 233.4,951.1 233.8,950.8 234.3,950.6 234.6,951.1 235.0,951.0 235.5,951.0 235.8,950.5 236.3,949.7 236.5,951.0 237.1,948.8 237.4,950.1 237.7,950.5 238.3,950.7 238.6,950.1 238.9,950.7 239.4,950.7 239.9,951.1 240.2,950.8 240.6,950.9 241.0,950.1 241.4,951.1 241.8,951.1 242.2,950.0 242.5,951.1 243.1,951.0 243.3,950.8 243.9,951.0 244.2,949.4 244.5,949.8 245.0,951.1 245.4,950.5 245.7,950.7 246.3,951.1 246.7,949.9 247.1,951.1 247.5,949.6 247.8,951.1 248.3,951.1 248.7,948.6 249.1,949.0 249.5,948.1 249.8,948.4 250.2,949.9 250.7,951.1 251.0,949.6 251.5,951.1 251.7,944.2 252.2,944.3 252.5,944.0 253.0,943.3 253.5,938.4 253.7,931.4 254.3,925.6 254.7,910.6 255.0,926.8 255.5,920.1 255.7,902.3 256.3,906.3 256.5,876.6 257.0,864.0 257.4,866.7 257.7,823.5 258.3,805.8 258.5,797.8 258.9,775.6 259.4,751.5 259.7,721.3 260.0,666.6 260.7,765.0 260.9,798.4 261.4,837.0 261.7,861.4 262.2,917.7 262.6,907.9 263.1,891.1 263.4,880.1 263.8,897.1 264.3,864.2 264.6,865.9 265.0,858.5 265.6,842.4 265.8,862.9 266.2,881.9 266.7,879.9 267.1,896.0 267.3,910.4 267.8,928.9 268.3,925.3 268.6,934.3 269.0,951.1 269.4,938.6 269.7,949.0 270.3,951.0 270.7,950.0 271.0,949.3 271.4,949.1 271.9,950.8 272.2,949.8 272.6,951.1 273.0,951.1 273.5,950.9 273.9,950.4 274.1,950.5 274.5,950.2 275.1,951.1 275.4,950.8 275.7,950.5 276.2,951.1 276.5,948.9 277.1,950.9 277.4,946.6 277.9,945.8 278.3,935.7 278.6,925.7 279.0,933.0 279.3,926.7 279.9,909.0 280.1,922.1 280.7,905.8 281.0,906.1 281.4,924.4 281.7,929.2 282.3,921.9 282.5,921.9 282.9,916.6 283.3,914.4 283.8,913.5 284.2,913.1 284.6,903.8 285.0,922.5 285.5,895.6 285.8,878.4 286.3,883.3 286.6,890.0 287.1,882.0 287.3,914.1 287.9,916.2 288.2,926.0 288.6,924.7 288.9,929.9 289.4,927.9 289.8,929.8 290.2,928.6 290.6,948.5 290.9,946.9 291.5,935.7 291.9,946.2 292.2,943.7 292.5,938.9 293.0,938.2 293.5,943.6 293.9,948.9 294.1,936.3 294.6,933.9 295.0,933.9 295.3,935.0 295.9,935.6 296.2,942.7 296.7,943.4 297.1,940.3 297.4,943.6 297.6,933.9 297.8,936.8 298.2,936.7 298.7,935.1 298.9,935.2 299.3,939.6 299.9,940.2 300.2,946.1 300.6,940.2 300.9,951.1 301.5,939.4 301.8,945.7 302.2,940.9 302.7,944.1 303.1,947.3 303.3,941.0 303.7,949.0 304.2,942.1 304.6,951.1 304.9,950.0 305.4,946.0 305.9,944.4 306.2,949.6 306.5,948.5 307.1,951.1 307.4,947.3 307.7,949.6 308.2,948.5 308.5,948.1 308.9,950.7 309.4,949.6 309.8,929.1 310.1,936.3 310.7,909.8 311.1,895.3 311.4,846.6 311.7,818.3 312.1,751.9 312.6,676.9 313.2,647.6 313.8,674.5 314.1,677.1 314.6,709.9 315.0,741.3 315.4,774.3 315.7,798.8 316.2,821.2 316.6,833.8 317.1,860.0 317.3,872.5 317.9,874.3 318.1,899.1 318.5,916.9 319.0,918.5 319.4,924.7 319.9,932.2 320.1,920.0 320.5,939.0 321.1,942.5 321.3,927.8 321.8,935.2 322.2,931.9 322.7,933.4 323.1,933.7 323.3,940.7 323.8,944.1 324.3,944.4 324.7,946.4 324.9,942.4 325.3,948.7 325.7,947.8 326.2,951.1 326.7,950.5 327.0,950.6 327.5,951.1 327.9,950.7 328.2,951.1 328.6,951.0 329.0,950.7 329.4,950.3 329.8,948.4 330.2,950.6 330.6,950.1 331.0,950.8 331.4,951.1 331.9,951.1 332.3,951.1 332.6,951.1 332.9,951.1 333.3,950.4 333.9,950.6 334.2,950.9 334.6,950.3 335.0,951.1 335.3,950.8 335.8,950.3 336.2,949.0 336.5,949.9 337.0,949.3 337.4,949.4 337.9,949.7 338.3,951.1 338.6,950.4 339.1,951.1 339.5,950.0 339.8,951.0 340.3,950.9 340.5,948.8 341.0,951.1 341.4,951.1 341.7,951.1 342.2,951.1 342.6,951.1 343.1,950.3 343.3,951.1 343.7,951.0 344.1,949.4 344.5,950.1 345.0,950.8 345.4,947.0 345.8,951.1 346.3,951.1 346.5,950.9 347.0,949.7 347.3,949.8 347.7,951.1 348.3,951.1 348.7,950.1 349.0,947.7 349.5,950.8 349.7,951.1 350.2,951.1 350.6,946.2 351.1,951.0 351.5,951.1 351.8,950.5 352.2,945.8 352.6,950.8 353.1,950.9 353.5,951.1 353.8,950.8 354.2,949.8 354.7,949.9 355.0,950.4 355.4,950.0 355.8,949.7 356.1,951.1 356.6,951.1 356.9,950.1 357.5,951.1 357.7,951.1 358.3,950.0 358.7,951.1 359.0,951.1 359.4,950.1 359.8,950.3 360.1,950.1 360.5,949.6 361.0,950.6 361.3,949.6 361.7,950.4 362.3,951.1 362.6,950.9 363.0,951.1 363.5,950.2 363.9,950.6 364.1,951.1 364.6,949.2 364.9,949.5 365.4,951.1 365.9,950.0 366.1,950.7 366.7,951.1 367.0,951.1 367.3,950.5 367.7,950.7 368.2,950.7 368.6,951.1 369.1,950.7 369.4,951.1 369.8,948.3 370.1,951.1 370.5,950.7 371.1,951.1 371.3,949.8 371.9,951.1 372.2,951.0 372.6,950.4 373.0,950.7 373.5,951.0 373.8,949.7 374.3,949.5 374.6,950.4 375.1,950.9 375.5,950.8 375.8,946.1 376.3,950.5 376.5,948.5 376.9,951.0" fill="none" stroke="#8a8a8a" stroke-width="1.2" stroke-linejoin="miter" stroke-miterlimit="2" opacity="1.0"/>
<path d="M55.7,948.4 56.2,950.7 56.6,949.3 57.0,946.4 57.4,950.1 57.9,950.9 58.3,947.8 58.6,950.0 59.1,951.1 59.4,951.1 59.8,945.8 60.2,950.5 60.6,950.9 61.1,948.7 61.4,951.1 61.8,948.6 62.2,950.4 62.5,949.2 62.9,947.9 63.3,943.9 63.8,948.2 64.3,951.1 64.5,950.7 65.0,951.1 65.5,950.2 65.9,950.3 66.1,950.5 66.5,949.2 66.9,948.0 67.4,946.8 67.8,951.1 68.2,950.0 68.5,951.0 69.1,951.1 69.4,951.1 69.8,951.1 70.3,951.1 70.6,950.0 71.0,949.8 71.5,951.1 71.9,951.1 72.3,950.8 72.7,950.0 72.9,948.6 73.5,950.6 73.7,946.1 74.2,951.1 74.5,951.0 75.0,950.8 75.5,950.2 75.8,949.6 76.3,948.9 76.6,950.5 77.1,951.1 77.4,947.7 77.8,950.4 78.3,949.6 78.5,950.8 79.1,951.1 79.3,949.6 79.8,951.1 80.3,949.3 80.6,948.1 81.1,946.1 81.3,949.9 81.7,950.6 82.1,950.7 82.7,950.4 83.1,950.4 83.5,945.7 83.9,950.3 84.1,949.6 84.7,949.5 84.9,946.8 85.3,949.4 85.7,951.1 86.1,948.9 86.5,950.3 87.1,950.8 87.3,950.6 87.8,950.7 88.2,946.6 88.6,950.3 89.0,951.1 89.4,951.1 89.9,950.7 90.2,950.3 90.6,944.3 91.1,950.6 91.4,948.8 91.8,950.2 92.3,950.4 92.7,950.2 93.0,949.5 93.4,949.1 93.9,950.9 94.3,949.4 94.5,949.5 95.1,950.7 95.4,948.0 95.8,950.6 96.3,950.6 96.7,949.2 97.1,949.8 97.4,950.2 97.7,951.1 98.1,951.1 98.5,950.6 98.9,948.8 99.4,951.1 99.8,946.6 100.2,951.0 100.5,951.1 101.0,950.3 101.4,951.1 101.8,948.9 102.1,951.1 102.5,950.8 102.9,948.7 103.3,950.8 103.9,950.7 104.2,951.1 104.5,951.1 105.0,950.5 105.4,949.3 105.8,949.6 106.1,951.1 106.5,950.3 106.9,945.4 107.4,951.0 107.8,951.1 108.1,951.1 108.6,945.4 109.0,950.6 109.5,950.1 109.7,951.1 110.3,950.3 110.6,949.3 111.1,949.8 111.5,950.3 111.7,949.4 112.1,950.7 112.6,950.8 112.9,951.1 113.4,950.6 113.8,947.9 114.2,950.6 114.6,950.5 114.9,950.7 115.5,951.1 115.9,951.1 116.2,948.9 116.5,947.1 116.9,951.1 117.3,951.1 117.8,949.1 118.3,949.4 118.6,946.5 118.9,947.2 119.5,951.1 119.7,943.2 120.1,949.4 120.3,942.6 120.6,938.7 120.9,946.5 121.4,950.0 121.7,943.8 122.3,945.6 122.7,951.1 123.0,951.1 123.4,947.5 123.8,950.1 124.3,950.7 124.5,950.1 125.0,950.4 125.4,951.1 125.8,949.7 126.2,950.9 126.7,951.1 126.9,950.0 127.3,951.1 127.8,950.9 128.1,944.3 128.6,951.1 129.1,950.0 129.4,951.1 129.7,950.5 130.3,949.3 130.5,950.7 130.9,950.3 131.3,951.1 131.7,951.1 132.3,949.9 132.6,949.4 133.0,950.7 133.3,951.1 133.8,947.3 134.1,950.8 134.6,951.1 134.9,949.6 135.5,945.7 135.8,950.6 136.3,948.7 136.5,950.8 137.0,950.5 137.4,950.6 137.7,949.7 138.1,949.5 138.6,950.1 138.9,950.2 139.4,951.1 139.8,949.8 140.2,951.1 140.5,951.1 140.9,951.1 141.4,949.8 141.7,950.8 142.2,950.8 142.5,950.7 143.1,950.1 143.3,949.7 143.8,951.1 144.1,950.6 144.6,951.1 144.9,947.9 145.5,950.1 145.9,950.0 146.3,951.1 146.5,950.6 146.9,950.4 147.3,950.9 147.7,951.1 148.2,950.8 148.6,945.5 149.0,951.1 149.3,943.2 149.7,951.1 150.1,951.1 150.7,949.9 151.0,944.2 151.4,948.6 151.7,950.7 152.2,950.8 152.6,950.5 152.9,950.5 153.3,947.3 153.7,946.7 154.3,950.7 154.7,950.3 154.9,951.1 155.5,950.2 155.9,950.9 156.3,946.9 156.7,951.1 157.0,951.1 157.5,950.3 157.7,950.8 158.1,951.1 158.5,951.1 159.0,946.2 159.3,950.2 159.7,950.5 160.1,951.1 160.5,950.2 160.9,951.1 161.3,951.1 161.8,948.0 162.3,951.1 162.5,950.5 163.0,950.3 163.5,949.0 163.9,951.1 164.3,951.1 164.6,950.5 164.9,949.7 165.3,949.9 165.9,950.5 166.2,950.2 166.6,950.9 166.9,951.1 167.3,949.4 167.9,951.1 168.3,949.4 168.6,951.1 168.9,948.5 169.5,949.9 169.9,951.1 170.1,951.1 170.5,951.1 170.9,951.1 171.4,950.7 171.7,947.2 172.2,948.9 172.5,951.1 173.1,948.7 173.3,950.5 173.9,949.7 174.3,949.0 174.7,944.8 175.1,948.9 175.5,950.4 175.7,949.8 176.2,950.0 176.5,949.5 177.0,951.1 177.3,951.1 177.8,949.9 178.1,950.6 178.5,950.1 179.0,950.7 179.4,950.5 179.9,950.9 180.2,944.8 180.6,950.5 181.0,950.8 181.4,951.0 181.8,950.2 182.2,950.7 182.6,951.0 183.0,950.0 183.4,950.1 183.8,950.3 184.2,949.6 184.7,951.1 185.1,949.9 185.4,950.2 185.9,949.9 186.1,949.6 186.7,950.7 187.0,948.6 187.3,950.8 187.7,949.8 188.1,950.3 188.7,951.1 189.0,950.2 189.4,947.0 189.7,949.0 190.2,950.2 190.7,950.9 191.0,946.4 191.4,951.0 191.9,951.1 192.3,950.3 192.7,951.1 193.1,951.1 193.5,949.7 193.9,951.0 194.2,949.2 194.6,947.1 195.1,951.1 195.5,950.8 195.7,950.7 196.3,950.3 196.6,951.1 197.0,950.8 197.3,950.7 197.8,950.6 198.2,951.1 198.6,951.1 198.9,947.2 199.4,949.9 199.7,949.7 200.3,950.3 200.6,950.4 201.1,949.7 201.4,950.5 201.9,949.5 202.1,950.1 202.5,951.0 202.9,951.1 203.5,950.7 203.8,951.1 204.2,950.1 204.6,950.5 205.0,950.7 205.5,946.5 205.9,951.1 206.1,950.2 206.6,949.9 207.1,950.1 207.3,950.1 207.9,947.3 208.2,949.6 208.5,951.1 209.0,949.0 209.5,950.1 209.9,951.1 210.1,951.1 210.5,949.4 210.9,948.0 211.4,948.8 211.8,951.1 212.2,950.9 212.6,949.3 213.1,951.1 213.5,950.2 213.7,950.6 214.1,950.3 214.6,949.1 215.1,950.0 215.3,945.8 215.8,951.1 216.3,950.1 216.7,948.5 217.1,950.7 217.4,950.5 217.8,950.4 218.2,948.7 218.6,951.1 219.1,951.1 219.4,951.1 219.9,950.0 220.1,949.3 220.5,951.1 221.1,945.8 221.4,951.1 221.8,951.1 222.1,950.0 222.7,951.1 222.9,951.1 223.3,949.7 223.7,951.1 224.2,950.5 224.5,950.7 225.1,951.1 225.3,950.4 225.7,950.2 226.3,950.7 226.6,950.2 227.0,948.5 227.5,949.7 227.8,950.0 228.3,950.8 228.6,950.4 229.1,951.1 229.5,947.4 229.7,950.9 230.3,950.9 230.7,949.8 231.0,951.1 231.3,950.5 231.8,949.9 232.2,950.7 232.6,949.8 232.9,950.3 233.5,949.0 233.7,945.8 234.1,951.1 234.5,951.1 235.0,950.0 235.3,951.1 235.9,950.2 236.3,949.5 236.6,950.8 237.1,949.8 237.4,949.7 237.7,949.3 238.2,950.1 238.6,951.0 239.1,951.1 239.5,948.9 239.8,950.0 240.2,950.8 240.5,950.8 241.1,951.1 241.4,949.4 241.7,950.7 242.1,949.6 242.7,949.5 242.9,951.1 243.4,951.1 243.8,950.4 244.2,950.1 244.5,951.1 245.0,950.6 245.5,950.5 245.8,943.8 246.3,949.9 246.6,948.6 247.0,949.6 247.5,951.1 247.7,949.6 248.1,951.1 248.6,949.2 249.0,948.1 249.5,950.3 249.7,951.1 250.2,945.4 250.6,944.5 251.0,948.9 251.3,951.1 251.8,951.1 252.2,946.0 252.6,938.9 253.1,939.8 253.4,935.1 253.9,926.6 254.2,925.4 254.6,927.4 255.1,915.6 255.4,915.2 255.8,902.3 256.3,897.6 256.7,880.5 257.1,885.8 257.5,870.7 257.9,867.8 258.2,865.3 258.5,839.2 259.1,815.8 259.3,806.4 259.8,782.5 260.0,767.4 260.6,804.0 261.1,830.0 261.4,850.2 261.8,882.2 262.2,926.2 262.5,897.0 262.9,894.0 263.5,899.7 263.8,884.9 264.1,874.5 264.6,870.3 265.0,858.8 265.3,846.3 265.9,869.0 266.2,878.6 266.7,873.3 267.1,905.0 267.4,933.2 267.9,922.5 268.3,937.2 268.6,938.3 269.1,940.8 269.4,944.0 269.9,945.8 270.2,945.9 270.5,950.2 271.0,951.1 271.5,951.1 271.8,951.1 272.1,949.0 272.7,951.1 272.9,951.1 273.5,951.0 273.9,951.1 274.3,950.2 274.5,949.4 275.1,950.6 275.3,950.5 275.8,950.4 276.1,951.1 276.7,948.3 277.1,945.2 277.4,948.1 277.9,944.9 278.2,939.7 278.7,949.1 279.1,935.4 279.5,951.1 279.8,936.4 280.2,910.9 280.7,910.9 281.1,919.1 281.3,925.1 281.9,932.4 282.2,921.7 282.7,899.9 283.0,908.8 283.4,918.3 283.8,907.4 284.2,915.9 284.5,916.9 285.1,882.3 285.3,904.5 285.8,882.4 286.2,895.9 286.7,910.5 287.0,907.4 287.5,912.5 287.7,905.4 288.2,900.9 288.7,922.4 289.1,920.5 289.4,927.5 289.8,950.9 290.2,951.1 290.5,937.7 291.1,931.4 291.3,934.0 291.8,932.0 292.1,934.1 292.5,935.9 292.9,936.0 293.4,942.6 293.8,937.3 294.2,938.2 294.5,938.2 295.0,935.1 295.4,941.9 295.9,944.5 296.3,935.7 296.5,935.4 296.9,948.8 297.3,935.8 297.6,935.4 298.1,935.9 298.6,937.7 298.9,948.9 299.4,940.9 299.7,950.3 300.3,943.7 300.5,941.7 301.1,936.5 301.4,948.8 301.8,947.5 302.2,946.3 302.6,950.7 303.0,942.1 303.4,942.5 303.8,943.1 304.1,943.2 304.7,943.5 305.0,942.8 305.5,949.7 305.9,939.8 306.1,947.0 306.7,950.1 306.9,947.9 307.4,948.9 307.8,945.0 308.1,946.0 308.6,951.1 309.0,951.1 309.3,948.8 309.8,939.3 310.2,926.7 310.7,927.1 311.0,919.5 311.4,859.1 311.8,808.2 312.1,785.2 312.7,747.9 313.1,697.0 313.3,717.1 313.7,716.3 314.1,730.8 314.6,745.3 315.1,771.8 315.4,789.9 315.8,801.8 316.1,820.2 316.6,837.0 317.0,846.2 317.5,881.6 317.9,895.5 318.2,910.9 318.5,912.6 319.0,911.2 319.3,920.5 319.7,933.9 320.2,925.6 320.6,938.8 321.0,932.1 321.3,951.1 321.7,937.4 322.1,933.9 322.5,937.5 323.0,942.1 323.4,934.7 323.7,951.1 324.2,947.3 324.6,942.2 324.9,944.9 325.5,950.0 325.8,945.9 326.1,945.5 326.7,950.7 326.9,948.2 327.5,949.0 327.8,951.1 328.2,950.7 328.6,948.7 329.0,951.1 329.5,951.1 329.8,951.1 330.2,948.6 330.6,949.1 331.1,950.1 331.4,950.8 331.7,950.9 332.3,950.7 332.5,951.1 333.1,951.1 333.4,950.9 333.7,951.1 334.3,951.1 334.7,951.0 335.0,947.6 335.4,948.8 335.8,951.1 336.1,950.8 336.6,951.1 337.0,950.3 337.3,950.4 337.7,951.1 338.2,949.9 338.5,949.8 338.9,950.1 339.5,950.2 339.8,950.9 340.2,948.8 340.7,949.4 341.1,950.9 341.5,950.7 341.8,951.1 342.2,949.9 342.6,950.7 343.0,950.4 343.3,949.4 343.7,950.8 344.3,950.8 344.6,950.8 345.1,948.6 345.5,949.6 345.7,951.1 346.2,951.0 346.7,951.1 346.9,946.0 347.5,949.2 347.7,951.1 348.2,949.8 348.5,950.5 349.1,950.9 349.5,951.1 349.7,951.1 350.2,950.0 350.6,951.1 351.0,951.1 351.5,951.1 351.9,950.3 352.2,947.7 352.7,950.9 353.0,949.8 353.3,949.9 353.8,951.1 354.1,951.1 354.6,950.8 355.0,950.8 355.3,950.4 355.9,950.1 356.3,950.8 356.6,950.0 356.9,951.1 357.5,951.1 357.7,951.1 358.2,951.1 358.5,949.6 359.0,950.3 359.5,949.2 359.8,950.7 360.2,951.1 360.7,949.1 360.9,950.2 361.4,948.9 361.9,951.1 362.2,951.1 362.7,950.9 362.9,951.1 363.4,951.1 363.7,944.6 364.3,951.1 364.6,951.1 365.1,950.9 365.4,949.8 365.8,950.6 366.1,949.2 366.7,949.5 367.0,950.7 367.3,950.9 367.9,951.1 368.2,951.0 368.7,950.9 369.0,948.4 369.4,950.7 369.8,949.4 370.2,950.7 370.7,945.3 370.9,951.1 371.4,951.1 371.8,946.9 372.1,951.1 372.5,951.0 372.9,950.9 373.4,950.9 373.7,949.9 374.3,950.1 374.7,949.3 375.1,951.1 375.3,950.1 375.8,951.1 376.1,950.6 376.7,950.6 377.1,951.1" fill="none" stroke="#74c6a6" stroke-width="1.2" stroke-linejoin="miter" stroke-miterlimit="2" opacity="1.0"/>
<line x1="56.50" y1="540.40" x2="56.50" y2="972.00" stroke="#000" stroke-width="1.4"/>
<line x1="55.80" y1="971.30" x2="377.78" y2="971.30" stroke="#000" stroke-width="1.4"/>
<line x1="95.96" y1="971.30" x2="95.96" y2="976.50" stroke="#000" stroke-width="1.4"/>
<text x="95.96" y="990.40" text-anchor="middle" class="t">2</text>
<line x1="136.12" y1="971.30" x2="136.12" y2="976.50" stroke="#000" stroke-width="1.4"/>
<text x="136.12" y="990.40" text-anchor="middle" class="t">4</text>
<line x1="176.28" y1="971.30" x2="176.28" y2="976.50" stroke="#000" stroke-width="1.4"/>
<text x="176.28" y="990.40" text-anchor="middle" class="t">6</text>
<line x1="216.44" y1="971.30" x2="216.44" y2="976.50" stroke="#000" stroke-width="1.4"/>
<text x="216.44" y="990.40" text-anchor="middle" class="t">8</text>
<line x1="256.60" y1="971.30" x2="256.60" y2="976.50" stroke="#000" stroke-width="1.4"/>
<text x="256.60" y="990.40" text-anchor="middle" class="t">10</text>
<line x1="296.76" y1="971.30" x2="296.76" y2="976.50" stroke="#000" stroke-width="1.4"/>
<text x="296.76" y="990.40" text-anchor="middle" class="t">12</text>
<line x1="336.92" y1="971.30" x2="336.92" y2="976.50" stroke="#000" stroke-width="1.4"/>
<text x="336.92" y="990.40" text-anchor="middle" class="t">14</text>
<line x1="377.08" y1="971.30" x2="377.08" y2="976.50" stroke="#000" stroke-width="1.4"/>
<text x="377.08" y="990.40" text-anchor="middle" class="t">16</text>
<line x1="51.50" y1="951.10" x2="56.50" y2="951.10" stroke="#000" stroke-width="1.4"/>
<text x="47.90" y="955.60" text-anchor="end" class="t">0</text>
<line x1="51.50" y1="903.52" x2="56.50" y2="903.52" stroke="#000" stroke-width="1.4"/>
<text x="47.90" y="908.02" text-anchor="end" class="t">50</text>
<line x1="51.50" y1="855.95" x2="56.50" y2="855.95" stroke="#000" stroke-width="1.4"/>
<text x="47.90" y="860.45" text-anchor="end" class="t">100</text>
<line x1="51.50" y1="808.38" x2="56.50" y2="808.38" stroke="#000" stroke-width="1.4"/>
<text x="47.90" y="812.88" text-anchor="end" class="t">150</text>
<line x1="51.50" y1="760.80" x2="56.50" y2="760.80" stroke="#000" stroke-width="1.4"/>
<text x="47.90" y="765.30" text-anchor="end" class="t">200</text>
<line x1="51.50" y1="713.23" x2="56.50" y2="713.23" stroke="#000" stroke-width="1.4"/>
<text x="47.90" y="717.73" text-anchor="end" class="t">250</text>
<line x1="51.50" y1="665.65" x2="56.50" y2="665.65" stroke="#000" stroke-width="1.4"/>
<text x="47.90" y="670.15" text-anchor="end" class="t">300</text>
<line x1="51.50" y1="618.08" x2="56.50" y2="618.08" stroke="#000" stroke-width="1.4"/>
<text x="47.90" y="622.58" text-anchor="end" class="t">350</text>
<line x1="51.50" y1="570.50" x2="56.50" y2="570.50" stroke="#000" stroke-width="1.4"/>
<text x="47.90" y="575.00" text-anchor="end" class="t">400</text>
<text x="215.59" y="1011.90" text-anchor="middle" class="b">Minutes</text>
<text transform="translate(13.10,757.55) rotate(-90)" text-anchor="middle" class="b">mV</text>
<text x="0.20" y="532.80" class="L">c</text>
<line x1="278.09" y1="951.40" x2="327.08" y2="951.40" stroke="#333" stroke-width="1"/>
<path d="M278.09,952.30 L282.79,960.30 L273.39,960.30 Z" fill="#fff" stroke="#000" stroke-width="1.15"/>
<path d="M327.08,952.30 L331.78,960.30 L322.38,960.30 Z" fill="#fff" stroke="#000" stroke-width="1.15"/>
<path d="M307.40,951.90 L311.40,955.50 L307.40,959.10 L303.40,955.50 Z" fill="#fff" stroke="#000" stroke-width="1.15"/>
<path d="M319.65,951.90 L323.65,955.50 L319.65,959.10 L315.65,955.50 Z" fill="#fff" stroke="#000" stroke-width="1.15"/>
<text x="263.60" y="649.40" text-anchor="middle" class="t">55.6%</text>
<text x="263.60" y="662.10" text-anchor="middle" class="t">56.3%</text>
<text x="316.00" y="627.00" text-anchor="middle" class="t">42.1%</text>
<text x="316.00" y="639.70" text-anchor="middle" class="t">41.8%</text>
<text x="117.20" y="914.80" text-anchor="middle" class="t">1.3%</text>
<text x="117.20" y="927.50" text-anchor="middle" class="t">1.2%</text>
<text x="326.60" y="921.20" text-anchor="start" class="t">1.0%</text>
<text x="326.60" y="933.90" text-anchor="start" class="t">0.6%</text>
<path d="M458.3,950.7 458.7,951.1 459.2,950.3 459.9,950.8 460.3,950.8 460.7,951.1 461.4,950.9 461.7,951.1 462.3,951.1 462.8,950.9 463.4,951.1 463.9,951.1 464.2,951.1 464.7,951.0 465.3,951.0 465.7,951.1 466.2,951.1 466.9,950.2 467.4,950.5 467.8,951.1 468.3,950.4 468.9,951.0 469.3,950.4 469.9,950.3 470.4,950.9 470.7,951.0 471.2,950.8 471.9,950.6 472.2,951.1 472.8,951.1 473.2,949.3 473.8,951.0 474.2,950.5 474.8,950.6 475.3,951.1 475.7,946.7 476.3,951.1 476.8,950.6 477.2,951.1 477.8,950.9 478.3,951.1 478.7,951.0 479.3,950.9 479.7,950.7 480.3,951.1 480.7,950.9 481.3,951.1 481.9,951.1 482.2,951.1 482.7,951.1 483.2,951.1 483.8,950.5 484.3,950.7 484.7,951.0 485.2,951.1 485.9,950.8 486.3,951.1 486.8,951.1 487.4,950.4 487.9,950.8 488.4,951.1 488.7,950.9 489.2,951.1 489.7,950.9 490.3,951.1 490.8,951.1 491.3,951.1 491.9,951.1 492.4,950.3 492.8,950.6 493.2,951.0 493.8,950.9 494.4,951.1 494.9,951.1 495.4,950.8 495.8,951.1 496.4,950.9 496.9,951.1 497.3,950.2 497.8,951.1 498.3,951.1 498.8,951.0 499.4,951.1 499.8,951.1 500.4,951.1 500.8,950.7 501.3,951.0 501.9,950.5 502.4,950.8 502.7,950.9 503.4,950.7 503.7,951.1 504.3,950.8 504.8,951.1 505.2,950.8 505.9,950.7 506.4,950.9 506.7,951.1 507.4,950.7 507.9,950.8 508.3,950.9 508.9,951.1 509.4,951.1 509.7,950.9 510.4,951.1 510.7,951.1 511.2,951.1 511.9,951.1 512.4,951.1 512.8,951.1 513.2,950.8 513.7,951.1 514.3,950.9 514.8,951.1 515.4,950.7 515.9,951.1 516.4,947.1 516.9,951.0 517.3,950.9 517.9,951.1 518.3,950.9 518.8,950.4 519.4,950.9 519.9,950.2 520.3,951.1 520.8,951.1 521.4,950.5 521.8,944.8 522.4,935.1 522.9,947.1 523.4,947.8 523.8,950.0 524.3,951.1 524.7,950.3 525.2,945.7 525.7,951.1 526.2,951.1 526.9,950.8 527.2,951.1 527.7,951.1 528.3,951.1 528.8,950.7 529.2,951.1 529.7,951.1 530.4,950.7 530.8,950.7 531.4,950.8 531.7,951.1 532.4,951.1 532.7,951.1 533.3,951.1 533.9,950.4 534.2,951.1 534.7,951.1 535.3,944.6 535.8,950.6 536.3,951.1 536.9,951.1 537.4,951.1 537.8,951.0 538.4,950.9 538.9,946.8 539.4,951.1 539.8,950.8 540.2,951.1 540.9,950.8 541.2,951.0 541.9,948.6 542.2,951.0 542.7,951.0 543.3,951.1 543.8,951.0 544.2,951.1 544.9,951.1 545.2,950.5 545.7,951.1 546.2,951.1 546.7,951.0 547.3,951.1 547.9,951.1 548.4,950.9 548.8,951.1 549.4,951.1 549.8,950.7 550.2,950.5 550.8,950.5 551.2,950.9 551.7,951.1 552.2,950.9 552.7,950.9 553.2,951.1 553.8,951.1 554.4,951.1 554.8,951.1 555.4,951.1 555.9,950.4 556.3,950.8 556.7,951.1 557.2,946.7 557.9,950.6 558.3,950.5 558.8,951.1 559.4,944.7 559.7,951.1 560.4,950.4 560.9,951.1 561.3,951.1 561.9,950.6 562.3,950.8 562.8,951.1 563.3,951.1 563.7,950.7 564.3,951.1 564.9,948.6 565.3,950.9 565.7,951.1 566.3,951.1 566.8,951.0 567.2,951.1 567.8,951.1 568.2,950.9 568.9,950.8 569.3,951.1 569.9,951.1 570.2,951.0 570.7,950.6 571.4,950.9 571.8,945.9 572.4,951.1 572.7,951.1 573.2,951.1 573.9,951.0 574.2,951.0 574.8,951.0 575.2,951.1 575.7,950.7 576.2,951.1 576.9,947.8 577.2,951.0 577.8,945.6 578.3,951.1 578.9,951.0 579.4,951.1 579.8,950.8 580.4,950.6 580.8,950.3 581.2,950.9 581.7,951.1 582.2,950.4 582.7,950.7 583.3,951.1 583.8,951.1 584.3,950.7 584.8,951.1 585.2,950.3 585.9,950.6 586.3,951.1 586.7,950.7 587.3,951.1 587.8,950.8 588.3,951.1 588.9,951.1 589.3,950.6 589.7,951.1 590.4,950.7 590.8,950.9 591.2,950.5 591.7,951.1 592.3,951.1 592.8,951.0 593.4,951.1 593.7,951.1 594.4,951.1 594.9,950.5 595.3,951.1 595.9,951.1 596.2,951.1 596.8,950.5 597.2,951.1 597.8,950.8 598.2,951.0 598.9,951.1 599.3,951.1 599.9,950.8 600.3,950.9 600.7,951.0 601.2,949.5 601.7,951.0 602.4,951.0 602.9,951.1 603.2,950.9 603.7,951.0 604.2,951.0 604.7,951.1 605.3,951.1 605.9,951.0 606.3,950.9 606.8,951.1 607.4,951.1 607.9,950.9 608.2,950.7 608.7,950.4 609.4,951.0 609.9,945.0 610.4,951.1 610.9,947.0 611.3,950.7 611.8,950.9 612.4,950.5 612.9,944.7 613.3,950.8 613.7,951.1 614.4,951.0 614.8,951.1 615.2,951.1 615.8,951.0 616.3,950.1 616.8,950.9 617.4,951.1 617.7,951.1 618.4,951.1 618.9,950.2 619.2,950.9 619.8,951.1 620.4,950.9 620.8,951.1 621.4,951.0 621.9,951.1 622.4,951.0 622.8,948.1 623.3,949.0 623.8,950.8 624.3,951.1 624.7,950.7 625.3,951.1 625.8,950.7 626.2,951.1 626.7,950.9 627.3,948.2 627.8,950.3 628.4,950.7 628.8,950.9 629.3,950.8 629.7,950.9 630.2,951.1 630.7,951.1 631.3,950.7 631.7,950.9 632.4,950.7 632.7,950.6 633.3,946.0 633.9,951.1 634.2,950.0 634.8,951.1 635.4,951.1 635.9,951.1 636.2,950.8 636.9,951.1 637.4,950.9 637.7,950.7 638.3,951.1 638.9,951.0 639.2,950.5 639.7,950.9 640.4,951.1 640.9,950.7 641.3,951.1 641.9,951.1 642.4,951.1 642.8,950.4 643.4,950.8 643.8,950.8 644.3,951.1 644.7,951.0 645.3,950.6 645.7,950.6 646.4,950.5 646.9,950.8 647.2,951.1 647.7,951.0 648.2,951.1 648.7,947.4 649.3,951.1 649.8,950.6 650.4,950.3 650.9,951.1 651.3,950.7 651.7,950.9 652.4,951.1 652.7,951.0 653.4,950.8 653.7,950.8 654.4,951.1 654.7,950.8 655.2,950.9 655.9,951.0 656.2,950.8 656.9,951.1 657.2,951.1 657.9,951.0 658.4,951.1 658.8,950.9 659.4,951.1 659.9,947.1 660.4,951.1 660.7,950.9 661.2,951.1 661.8,951.1 662.4,951.1 662.8,950.8 663.3,951.1 663.8,950.6 664.3,951.1 664.9,951.0 665.4,950.7 665.7,950.4 666.3,950.8 666.7,950.8 667.3,951.1 667.7,951.1 668.2,951.1 668.9,951.1 669.2,951.1 669.7,951.1 670.3,951.1 670.8,951.1 671.2,950.2 671.7,949.5 672.2,949.9 672.9,950.7 673.3,949.0 673.8,950.4 674.3,951.1 674.9,948.4 675.4,949.2 675.7,948.1 676.2,949.4 676.8,951.1 677.4,951.1 677.8,951.1 678.2,947.7 678.8,946.6 679.4,945.4 679.8,946.5 680.4,947.7 680.8,945.1 681.3,949.8 681.7,946.2 682.3,951.1 682.7,948.3 683.2,944.6 683.9,951.1 684.4,944.1 684.8,945.2 685.2,944.1 685.7,944.2 686.4,951.1 686.7,943.1 687.3,950.7 687.8,940.9 688.4,943.2 688.9,948.9 689.3,948.8 689.8,944.6 690.2,948.7 690.7,951.1 691.4,951.1 691.8,946.5 692.3,948.3 692.9,947.5 693.4,942.7 693.7,951.1 694.3,950.5 694.7,944.1 695.2,943.6 695.7,945.2 696.3,944.6 696.9,951.0 697.2,941.9 697.7,944.1 698.2,951.1 698.7,941.6 699.3,946.4 699.7,945.4 700.0,941.5 700.4,951.1 700.8,950.2 701.2,945.7 701.8,944.4 702.2,942.9 702.9,946.9 703.2,943.0 703.8,946.8 704.2,950.5 704.8,946.7 705.3,938.6 705.7,948.7 706.0,941.5 706.4,944.3 706.8,941.9 707.4,942.1 707.7,939.7 708.3,951.1 M725.7,944.2 726.2,948.4 726.9,945.5 727.3,945.7 727.7,948.5 728.4,951.1 728.9,951.1 729.3,947.6 729.9,949.9 730.4,951.1 730.7,948.1 731.4,951.1 731.8,951.1 732.2,949.4 732.7,949.4 733.4,948.9 733.7,949.3 734.4,945.9 734.9,951.1 735.4,949.9 735.8,949.8 736.4,950.0 736.7,951.1 737.4,950.0 737.8,951.1 738.3,950.6 738.8,946.7 739.3,950.5 739.7,950.8 740.3,950.9 740.9,950.9 741.2,948.6 741.7,950.5 742.4,951.1 742.7,950.6 743.2,950.9 743.7,951.1 744.4,951.1 744.8,950.6 745.4,950.9 745.9,951.1 746.4,950.4 746.7,950.9 747.2,950.9 747.9,950.6 748.4,951.1 748.9,946.1 749.3,951.0 749.7,951.1 750.3,951.1 750.9,951.1 751.4,951.1 751.8,950.9 752.3,951.1 752.8,950.7 753.3,945.0 753.8,950.3 754.3,950.5 754.8,951.1 755.3,951.1 755.7,951.1 756.3,950.8 756.9,951.1 757.2,948.9 757.8,950.2 758.3,951.1 758.8,946.3 759.3,947.1 759.7,951.1 760.2,950.5 760.8,951.0 761.4,951.1 761.7,950.9 762.3,950.9 762.7,951.0 763.2,951.1 763.8,948.4 764.3,951.1 764.7,950.2 765.3,944.0 765.9,951.0 766.2,951.1 766.9,951.0 767.2,950.7 767.9,950.9 768.4,951.0 768.9,951.1 769.4,951.1 769.9,950.7 770.4,950.9 770.7,951.0 771.4,951.1 771.9,950.7 772.2,947.3 772.8,951.1 773.3,951.1 773.9,951.1 774.2,951.1 774.8,951.1 775.3,950.8 775.7,950.9 776.3,950.5 776.9,950.6 777.4,951.1 777.9,951.0 778.2,951.1 778.7,950.5 779.4,950.9" fill="none" stroke="#5a2d91" stroke-width="1.0" stroke-linejoin="miter" stroke-miterlimit="2" opacity="1.0"/>
<path d="M458.4,951.1 458.8,950.4 459.4,950.6 459.9,951.1 460.2,950.7 460.9,951.0 461.4,951.1 461.9,951.0 462.2,950.7 462.8,951.1 463.3,950.8 463.9,950.9 464.3,947.3 464.9,951.1 465.3,951.1 465.7,949.9 466.3,951.1 466.7,951.1 467.4,950.7 467.8,951.1 468.4,951.1 468.8,951.1 469.4,950.4 469.9,950.4 470.4,950.9 470.7,951.1 471.3,950.9 471.7,951.1 472.2,950.8 472.9,950.3 473.4,950.9 473.9,951.0 474.2,950.7 474.8,950.1 475.3,950.1 475.7,951.1 476.2,951.1 476.8,951.1 477.2,951.1 477.9,951.1 478.3,950.2 478.9,950.7 479.4,951.1 479.7,951.0 480.4,950.9 480.9,950.1 481.3,951.0 481.7,951.1 482.4,950.4 482.7,951.1 483.2,950.9 483.7,950.6 484.4,951.1 484.8,950.1 485.4,950.8 485.9,950.7 486.3,951.1 486.8,950.4 487.2,950.9 487.7,951.1 488.4,949.8 488.8,951.1 489.3,950.5 489.9,950.7 490.3,950.8 490.8,951.0 491.3,950.9 491.7,950.2 492.2,951.0 492.8,950.9 493.2,950.4 493.8,950.5 494.4,951.1 494.7,950.8 495.2,951.1 495.7,950.4 496.2,951.0 496.8,950.6 497.3,951.1 497.9,951.1 498.3,951.0 498.8,951.1 499.4,951.1 499.7,951.1 500.2,951.1 500.7,951.0 501.4,947.6 501.8,950.6 502.2,951.1 502.8,951.1 503.2,950.0 503.9,951.1 504.3,950.7 504.8,951.1 505.2,950.1 505.8,951.0 506.3,950.7 506.7,951.1 507.2,951.1 507.9,950.8 508.4,951.1 508.9,949.5 509.2,951.0 509.9,951.1 510.4,950.6 510.9,950.9 511.3,950.2 511.7,951.1 512.2,951.1 512.9,951.1 513.3,950.9 513.7,951.0 514.2,951.1 514.8,951.0 515.2,950.3 515.9,951.1 516.4,951.0 516.9,950.9 517.3,951.1 517.8,951.1 518.3,951.1 518.8,950.6 519.2,951.1 519.8,951.1 520.2,951.1 520.8,951.1 521.2,951.1 521.7,951.1 522.2,950.8 522.8,951.0 523.2,951.0 523.9,951.1 524.3,950.5 524.8,949.7 525.3,951.1 525.7,951.0 526.4,950.3 526.8,951.1 527.4,950.5 527.7,950.7 528.3,950.9 528.8,950.7 529.4,951.0 529.8,950.4 530.3,951.1 530.7,950.9 531.2,950.2 531.8,950.8 532.3,950.9 532.7,951.1 533.4,951.1 533.9,951.1 534.2,950.8 534.8,951.1 535.2,951.1 535.9,950.9 536.2,950.8 536.8,950.8 537.4,951.1 537.9,950.8 538.2,951.1 538.9,951.1 539.2,951.1 539.7,950.0 540.3,951.1 540.8,950.5 541.4,950.4 541.9,951.1 542.2,951.1 542.9,950.6 543.2,950.6 543.8,951.1 544.2,951.0 544.9,951.0 545.2,950.9 545.7,950.4 546.3,951.1 546.9,951.1 547.4,948.5 547.9,951.0 548.4,950.8 548.9,950.7 549.3,951.1 549.7,950.7 550.4,951.1 550.8,950.3 551.3,951.1 551.7,951.1 552.4,950.9 552.7,949.9 553.4,950.5 553.7,950.6 554.2,950.8 554.9,949.0 555.2,950.4 555.7,950.5 556.3,951.0 556.9,951.1 557.2,950.0 557.7,950.4 558.4,951.1 558.9,951.1 559.3,950.9 559.7,951.0 560.2,951.0 560.7,951.1 561.2,950.4 561.9,951.1 562.2,950.7 562.8,951.1 563.4,950.3 563.8,951.1 564.2,950.7 564.9,950.8 565.4,950.7 565.9,951.1 566.2,950.6 566.7,951.1 567.4,950.5 567.8,950.5 568.2,950.4 568.8,951.1 569.3,951.0 569.9,950.6 570.2,951.1 570.9,951.1 571.2,951.1 571.8,951.0 572.3,951.1 572.7,950.4 573.2,951.1 573.8,950.3 574.4,950.9 574.8,951.0 575.4,951.1 575.9,950.9 576.3,950.7 576.9,950.9 577.2,950.7 577.7,950.4 578.4,951.0 578.9,951.1 579.2,951.0 579.8,951.1 580.3,951.1 580.9,951.1 581.3,950.9 581.8,950.9 582.3,950.9 582.8,951.1 583.3,951.1 583.9,950.5 584.3,950.8 584.7,951.1 585.2,951.1 585.9,951.1 586.4,951.0 586.7,950.9 587.2,950.6 587.8,951.1 588.2,950.2 588.9,951.0 589.2,951.1 589.7,950.8 590.4,951.1 590.7,950.6 591.2,950.7 591.7,951.0 592.2,950.8 592.7,950.5 593.2,951.0 593.7,950.2 594.2,950.5 594.8,951.1 595.4,951.1 595.8,951.1 596.2,950.9 596.8,951.1 597.4,950.5 597.9,951.0 598.2,950.1 598.7,951.1 599.2,951.1 599.7,951.1 600.3,950.6 600.8,950.5 601.2,950.1 601.8,951.0 602.3,951.0 602.7,950.4 603.4,950.7 603.7,950.4 604.4,951.1 604.7,950.7 605.4,951.1 605.9,951.1 606.4,951.1 606.9,951.1 607.4,950.3 607.8,951.1 608.4,951.0 608.7,951.0 609.3,950.9 609.8,950.8 610.4,950.8 610.8,950.9 611.3,950.7 611.8,950.8 612.2,951.1 612.7,951.1 613.3,951.1 613.8,951.0 614.2,950.9 614.8,951.0 615.3,950.7 615.7,950.6 616.3,950.7 616.9,950.8 617.2,950.6 617.9,951.1 618.4,951.1 618.8,950.3 619.2,951.1 619.8,951.0 620.4,951.1 620.8,951.1 621.4,951.0 621.8,951.0 622.3,951.1 622.7,951.1 623.4,950.0 623.7,951.1 624.4,950.5 624.9,951.1 625.2,951.0 625.8,950.8 626.2,951.1 626.9,950.3 627.2,950.0 627.9,950.7 628.2,950.7 628.9,951.1 629.4,950.4 629.8,950.7 630.4,951.1 630.9,951.0 631.4,950.9 631.7,950.9 632.3,950.9 632.7,951.0 633.3,951.0 633.7,950.6 634.3,951.1 634.8,950.6 635.3,951.1 635.8,950.4 636.4,951.1 636.9,951.1 637.3,950.9 637.8,951.1 638.4,951.1 638.7,950.9 639.2,949.7 639.7,951.0 640.3,951.1 640.8,951.1 641.4,950.8 641.9,950.8 642.3,949.7 642.9,950.3 643.4,950.9 643.7,951.0 644.3,951.1 644.7,951.1 645.2,950.7 645.7,951.1 646.4,951.1 646.8,950.6 647.3,950.0 647.9,950.3 648.3,950.9 648.9,950.6 649.4,950.9 649.8,950.7 650.3,951.1 650.9,951.1 651.4,951.1 651.9,950.6 652.2,950.3 652.9,950.6 653.3,951.1 653.7,951.1 654.3,950.4 654.9,951.1 655.2,950.1 655.8,950.9 656.4,951.1 656.7,951.1 657.3,951.0 657.8,950.5 658.2,951.0 658.9,951.1 659.4,951.1 659.7,951.1 660.4,950.8 660.9,950.9 661.2,951.1 661.9,950.4 662.2,951.1 662.9,950.7 663.3,951.1 663.8,951.1 664.2,950.0 664.9,948.3 665.2,951.1 665.7,950.2 666.2,950.5 666.9,950.8 667.2,951.0 667.9,951.1 668.3,951.0 668.7,951.1 669.2,951.1 669.7,950.5 670.3,951.0 670.9,951.1 671.2,951.1 671.9,950.3 672.2,950.6 672.9,951.0 673.4,950.8 673.9,951.0 674.4,950.7 674.9,950.6 675.2,950.9 675.7,950.5 676.2,951.1 676.8,951.1 677.4,950.8 677.8,951.0 678.4,951.0 678.7,950.7 679.4,950.8 679.7,950.4 680.2,950.4 680.9,950.9 681.4,950.6 681.8,949.3 682.2,950.9 682.8,950.4 683.2,950.7 683.9,951.0 684.4,950.7 684.7,951.1 685.2,951.0 685.7,950.0 686.4,951.1 686.8,950.0 687.4,951.1 687.8,951.0 688.3,950.6 688.7,951.1 689.4,950.8 689.7,951.1 690.3,951.0 690.9,951.0 691.3,951.1 691.9,951.1 692.2,950.9 692.8,950.8 693.3,950.8 693.8,950.5 694.2,951.1 694.7,951.1 695.2,950.8 695.7,950.6 696.3,950.6 696.8,951.1 697.3,951.1 697.8,950.8 698.3,951.1 698.7,951.1 699.3,951.1 699.7,951.1 700.2,951.0 700.8,950.4 701.3,950.9 701.7,950.7 702.3,950.4 702.8,951.1 703.4,950.7 703.8,951.0 704.3,951.1 704.7,950.5 705.4,951.0 705.8,951.1 706.3,950.8 706.8,951.0 707.3,950.8 707.8,951.0 708.4,950.9 708.9,950.8 709.4,951.0 709.8,944.5 710.3,934.9 710.9,927.3 711.2,916.1 711.9,892.5 712.3,857.8 712.7,835.5 713.2,806.3 713.9,772.9 714.2,765.0 714.7,749.8 715.2,732.2 715.7,755.3 716.2,780.0 716.9,826.1 717.2,838.2 717.9,878.1 718.4,909.1 718.8,918.4 719.2,920.5 719.8,936.1 720.2,941.9 720.8,946.3 721.4,951.1 721.9,951.1 722.4,950.5 722.7,951.1 723.4,950.6 723.9,950.4 724.3,950.7 724.8,951.1 725.2,950.2 725.7,951.1 726.3,951.1 726.7,950.5 727.2,951.1 727.9,951.1 728.4,951.1 728.8,951.1 729.4,950.3 729.9,951.1 730.2,951.0 730.8,951.1 731.3,950.2 731.7,951.0 732.4,951.1 732.8,951.0 733.3,950.8 733.7,950.9 734.2,951.1 734.9,951.1 735.2,951.0 735.7,951.1 736.2,951.1 736.8,950.2 737.3,950.9 737.8,951.1 738.2,951.1 738.7,951.1 739.4,951.1 739.8,950.2 740.3,951.0 740.9,951.1 741.4,951.1 741.7,950.9 742.3,950.8 742.8,950.7 743.3,951.1 743.9,951.1 744.3,950.1 744.9,951.1 745.4,950.5 745.8,950.8 746.4,951.1 746.8,951.1 747.4,951.1 747.8,950.4 748.3,950.7 748.8,951.1 749.2,950.7 749.8,951.1 750.4,950.6 750.8,950.9 751.2,951.1 751.8,951.1 752.2,951.0 752.7,951.1 753.4,950.4 753.8,951.1 754.2,951.1 754.8,951.1 755.2,950.8 755.7,951.1 756.4,951.1 756.8,946.6 757.4,951.1 757.8,950.8 758.3,951.1 758.9,951.0 759.4,948.4 759.9,951.0 760.4,951.1 760.9,950.8 761.4,950.9 761.7,951.1 762.4,951.1 762.8,951.1 763.3,950.9 763.8,951.1 764.4,950.8 764.9,950.6 765.2,950.4 765.9,950.6 766.4,951.0 766.8,951.1 767.2,951.1 767.7,951.1 768.4,949.6 768.8,951.0 769.4,950.7 769.8,951.1 770.4,950.8 770.8,950.5 771.4,950.6 771.7,950.2 772.3,950.9 772.9,950.4 773.4,950.4 773.9,951.1 774.2,951.1 774.8,951.1 775.2,950.2 775.7,951.1 776.4,950.1 776.9,951.1 777.4,950.7 777.9,951.1 778.4,950.4 778.9,950.8 779.2,950.6" fill="none" stroke="#94bde4" stroke-width="1.0" stroke-linejoin="miter" stroke-miterlimit="2" opacity="1.0"/>
<path d="M458.4,947.5 458.9,950.5 459.2,950.8 459.9,948.8 460.4,951.1 460.8,951.1 461.3,951.1 461.8,949.2 462.3,950.6 462.8,951.1 463.4,950.9 463.9,949.1 464.3,949.6 464.8,950.2 465.3,949.7 465.9,950.0 466.4,951.1 466.7,950.0 467.4,948.6 467.7,946.9 468.2,949.7 468.8,951.1 469.4,951.1 469.7,949.5 470.4,951.1 470.8,948.5 471.4,951.1 471.9,948.8 472.2,949.9 472.7,951.1 473.4,949.3 473.7,950.4 474.4,951.1 474.9,949.7 475.2,949.2 475.8,950.6 476.3,951.1 476.9,948.4 477.4,949.7 477.7,949.4 478.2,948.4 478.7,950.2 479.4,948.9 479.9,951.0 480.4,951.1 480.8,949.6 481.4,950.2 481.7,950.6 482.4,948.8 482.8,948.9 483.3,950.9 483.9,950.3 484.4,950.2 484.7,950.3 485.2,951.1 485.9,949.8 486.2,946.5 486.9,950.5 487.2,951.1 487.8,949.6 488.4,951.1 488.9,950.8 489.2,948.6 489.9,946.6 490.2,951.0 490.8,951.1 491.3,951.1 491.7,951.1 492.4,949.4 492.8,949.1 493.4,949.6 493.9,949.7 494.3,951.1 494.7,950.9 495.3,950.8 495.8,951.1 496.2,947.7 496.7,951.1 497.3,951.1 497.8,950.1 498.3,948.1 498.9,949.9 499.3,949.2 499.9,950.5 500.2,951.1 500.9,948.5 501.4,950.8 501.8,949.3 502.3,951.1 502.9,951.1 503.2,951.1 503.9,950.6 504.3,950.1 504.8,949.9 505.3,949.7 505.7,949.3 506.2,951.0 506.9,946.2 507.3,950.8 507.9,950.0 508.4,949.2 508.9,950.2 509.2,948.7 509.9,951.1 510.3,949.3 510.9,949.4 511.2,950.9 511.7,949.2 512.3,950.7 512.8,951.0 513.2,949.0 513.9,950.7 514.4,951.1 514.8,951.1 515.3,950.5 515.8,947.3 516.2,948.1 516.8,949.4 517.4,948.9 517.7,948.3 518.3,951.1 518.9,949.3 519.4,950.2 519.7,951.1 520.4,950.5 520.7,950.0 521.3,950.6 521.7,947.9 522.2,950.8 522.8,948.7 523.2,950.6 523.9,950.7 524.2,950.7 524.9,949.7 525.4,950.3 525.8,949.5 526.3,950.4 526.9,948.1 527.4,950.9 527.7,951.1 528.4,951.1 528.8,950.4 529.3,948.7 529.9,950.7 530.4,951.0 530.7,950.3 531.2,948.0 531.7,951.1 532.2,949.9 532.9,950.3 533.4,950.1 533.8,951.1 534.4,950.5 534.9,949.5 535.2,951.1 535.7,951.1 536.4,949.5 536.7,950.9 537.2,951.1 537.7,951.1 538.2,950.5 538.7,949.0 539.4,949.8 539.8,951.1 540.4,949.9 540.8,949.1 541.3,949.8 541.8,950.2 542.3,951.1 542.9,949.6 543.3,948.6 543.7,950.7 544.4,950.0 544.9,950.2 545.3,949.7 545.9,950.6 546.4,950.1 546.7,951.1 547.4,951.1 547.8,949.3 548.4,949.1 548.7,949.3 549.2,950.4 549.7,951.1 550.4,950.1 550.8,949.3 551.3,951.1 551.9,950.4 552.3,948.5 552.8,951.1 553.2,947.8 553.7,951.1 554.3,948.2 554.8,949.4 555.2,949.8 555.7,949.0 556.2,949.3 556.7,951.1 557.3,950.7 557.9,950.6 558.2,951.1 558.8,951.1 559.2,951.1 559.8,949.7 560.3,951.1 560.7,951.1 561.2,947.7 561.8,950.6 562.2,951.1 562.8,950.4 563.3,950.1 563.8,951.1 564.3,950.5 564.8,947.8 565.3,950.7 565.9,948.9 566.2,951.1 566.9,950.7 567.3,950.2 567.9,950.4 568.4,950.1 568.7,950.8 569.3,950.1 569.7,950.8 570.2,949.9 570.9,951.1 571.4,951.1 571.9,950.5 572.3,949.2 572.9,951.1 573.3,949.6 573.8,946.8 574.4,951.0 574.7,951.1 575.3,948.4 575.7,951.1 576.4,951.1 576.9,951.1 577.3,949.9 577.7,950.6 578.2,950.4 578.8,950.3 579.4,948.2 579.8,951.1 580.2,950.9 580.7,951.0 581.3,950.5 581.9,949.3 582.2,951.1 582.9,950.5 583.3,950.5 583.7,948.4 584.3,951.1 584.8,948.4 585.2,948.8 585.8,951.0 586.3,950.6 586.8,948.5 587.3,950.8 587.8,950.4 588.2,950.4 588.9,951.1 589.2,949.5 589.8,950.6 590.3,950.4 590.8,950.4 591.3,950.6 591.9,950.1 592.2,949.6 592.7,951.1 593.2,950.8 593.9,949.7 594.3,949.3 594.8,950.1 595.2,948.2 595.9,949.8 596.2,951.1 596.9,949.9 597.2,950.6 597.9,951.1 598.4,950.8 598.9,949.9 599.3,949.4 599.8,949.0 600.4,950.4 600.7,950.9 601.2,951.1 601.8,949.6 602.2,947.1 602.8,950.5 603.4,950.7 603.9,950.6 604.4,949.2 604.7,949.3 605.4,951.1 605.9,950.9 606.4,949.6 606.7,948.8 607.3,950.5 607.7,949.8 608.2,950.5 608.9,950.6 609.2,951.1 609.9,950.4 610.3,950.7 610.9,948.4 611.3,950.3 611.7,950.6 612.4,950.2 612.9,950.1 613.3,950.4 613.7,951.1 614.4,951.1 614.8,950.2 615.2,949.8 615.8,950.0 616.3,948.2 616.7,951.1 617.4,950.9 617.7,949.9 618.4,948.6 618.8,950.9 619.3,950.6 619.7,950.6 620.3,951.1 620.9,951.1 621.4,950.6 621.9,951.1 622.2,949.5 622.9,951.0 623.4,949.2 623.9,950.3 624.3,950.2 624.9,951.1 625.3,951.1 625.7,951.1 626.3,951.1 626.7,950.6 627.2,950.1 627.7,950.9 628.3,950.9 628.9,949.9 629.4,951.1 629.7,950.0 630.4,949.8 630.9,950.3 631.3,951.1 631.7,949.7 632.2,951.1 632.7,951.1 633.3,950.8 633.8,951.1 634.3,951.1 634.7,950.5 635.4,949.5 635.8,948.8 636.4,951.1 636.8,950.8 637.4,949.9 637.9,950.3 638.2,947.2 638.8,950.9 639.2,949.8 639.8,949.8 640.4,950.8 640.7,948.3 641.3,951.1 641.9,950.7 642.4,947.9 642.9,951.1 643.3,951.1 643.9,951.1 644.2,950.8 644.7,951.1 645.4,950.2 645.9,949.8 646.2,951.1 646.8,951.1 647.4,950.9 647.8,949.4 648.4,951.0 648.9,950.4 649.2,950.0 649.9,949.9 650.2,950.7 650.8,950.4 651.3,950.7 651.9,951.1 652.3,951.1 652.9,947.7 653.4,950.9 653.7,950.6 654.4,951.0 654.7,950.1 655.2,951.0 655.8,949.0 656.4,949.2 656.9,951.1 657.4,950.4 657.9,947.0 658.2,951.1 658.9,950.6 659.4,949.8 659.8,950.8 660.2,950.4 660.9,951.1 661.4,949.5 661.9,949.5 662.3,951.1 662.9,947.5 663.4,949.7 663.7,951.1 664.3,949.0 664.9,948.1 665.3,950.6 665.7,949.2 666.4,949.6 666.7,950.7 667.2,949.3 667.8,948.7 668.3,949.7 668.7,948.8 669.2,951.1 669.7,951.1 670.4,947.4 670.9,949.9 671.4,949.9 671.7,948.1 672.3,949.9 672.9,949.3 673.4,949.9 673.8,948.0 674.2,951.1 674.8,949.2 675.4,948.3 675.8,948.6 676.2,948.1 676.9,947.8 677.4,948.1 677.8,948.5 678.4,951.1 678.8,946.1 679.3,951.1 679.7,946.5 680.4,947.6 680.9,945.7 681.2,947.5 681.7,951.1 682.2,946.1 682.7,949.6 683.4,950.4 683.7,946.4 684.2,945.3 684.9,946.1 685.2,946.0 685.9,948.3 686.4,947.5 686.7,945.4 687.3,944.9 687.7,951.1 688.2,947.7 688.7,946.2 689.4,946.2 689.8,943.7 690.3,945.6 690.7,945.6 691.3,945.4 691.9,951.1 692.2,949.4 692.8,943.4 693.4,945.8 693.9,943.3 694.3,951.0 694.8,948.0 695.2,946.0 695.9,944.8 696.2,947.0 696.7,944.2 697.2,947.4 697.9,951.1 698.4,948.5 698.9,946.2 699.4,945.7 699.7,943.8 700.0,945.0 700.2,943.6 700.8,947.7 701.2,946.1 701.8,951.1 702.4,944.7 702.8,951.1 703.3,944.4 703.7,946.2 704.2,945.3 704.9,945.3 705.3,947.9 705.9,946.8 706.3,948.9 706.8,943.6 707.2,944.2 707.9,947.6 708.3,945.4 708.7,942.7 709.2,946.3 709.9,943.1 710.2,941.1 710.9,907.3 711.2,909.2 711.8,911.9 712.3,886.6 712.9,839.3 713.4,827.8 713.7,819.3 714.2,804.8 714.7,787.1 715.2,811.0 715.8,827.9 716.3,852.7 716.7,868.0 717.2,878.3 717.9,894.1 718.3,922.9 718.7,936.4 719.2,937.7 719.7,938.7 720.2,941.9 720.8,949.2 721.3,946.6 721.7,946.4 722.2,944.8 722.9,951.1 723.2,947.4 723.9,944.0 724.2,946.5 724.9,947.3 725.3,951.1 725.7,947.6 726.4,949.3 726.7,947.4 727.4,946.5 727.8,951.0 728.2,947.8 728.8,950.0 729.3,948.2 729.9,951.0 730.4,947.9 730.8,951.1 731.2,949.2 731.8,951.1 732.3,949.8 732.8,951.1 733.3,951.1 733.7,951.1 734.4,951.1 734.8,949.8 735.3,949.3 735.9,949.7 736.3,950.3 736.8,950.4 737.3,951.1 737.9,951.1 738.3,949.5 738.9,950.6 739.2,949.5 739.9,950.5 740.2,949.6 740.8,950.4 741.4,950.6 741.7,949.5 742.4,950.0 742.8,949.3 743.2,951.1 743.8,950.1 744.2,950.2 744.7,951.0 745.4,950.5 745.7,951.1 746.4,951.1 746.8,949.9 747.3,948.7 747.9,951.1 748.2,951.1 748.7,949.6 749.3,950.0 749.7,951.1 750.4,951.1 750.7,950.5 751.3,947.6 751.8,949.1 752.3,950.3 752.8,951.1 753.4,950.6 753.9,951.1 754.2,951.1 754.8,950.4 755.3,950.3 755.7,947.5 756.3,951.1 756.9,951.1 757.2,950.9 757.7,949.8 758.4,948.0 758.9,950.6 759.3,950.2 759.8,948.6 760.2,950.4 760.8,949.6 761.4,951.1 761.9,951.1 762.4,951.1 762.8,950.0 763.4,950.3 763.9,950.6 764.4,950.6 764.7,950.8 765.3,948.3 765.8,950.1 766.3,950.9 766.9,949.8 767.2,948.3 767.7,951.1 768.3,951.1 768.9,949.8 769.2,951.1 769.7,950.1 770.3,951.1 770.8,950.3 771.4,951.0 771.9,950.2 772.4,948.7 772.9,949.8 773.3,950.3 773.8,950.9 774.4,949.0 774.9,948.9 775.2,949.2 775.9,950.9 776.4,949.6 776.8,950.6 777.4,951.1 777.9,948.2 778.2,951.1 778.7,950.4 779.2,950.5" fill="none" stroke="#f2a2a2" stroke-width="1.3" stroke-linejoin="miter" stroke-miterlimit="2" opacity="1.0"/>
<path d="M708.3,951.1 708.7,951.1 709.3,941.5 709.7,929.1 710.3,940.3 710.8,938.6 711.3,918.0 711.9,877.8 712.4,851.6 712.9,836.9 713.2,824.5 713.7,784.6 714.2,722.5 714.8,661.4 715.3,559.1 715.9,671.2 716.3,732.0 716.9,798.6 717.4,805.9 717.8,824.8 718.2,828.2 718.9,840.0 719.4,860.9 719.7,876.7 720.2,909.9 720.8,919.4 721.2,927.2 721.8,943.8 722.4,934.1 722.8,931.3 723.2,946.7 723.7,943.7 724.3,938.1 724.7,951.1 725.2,946.1 725.7,944.2" fill="none" stroke="#5a2d91" stroke-width="1.0" stroke-linejoin="miter" stroke-miterlimit="2" opacity="1.0"/>
<line x1="459.00" y1="540.40" x2="459.00" y2="972.00" stroke="#000" stroke-width="1.4"/>
<line x1="458.30" y1="971.30" x2="780.28" y2="971.30" stroke="#000" stroke-width="1.4"/>
<line x1="498.46" y1="971.30" x2="498.46" y2="976.50" stroke="#000" stroke-width="1.4"/>
<text x="498.46" y="990.40" text-anchor="middle" class="t">2</text>
<line x1="538.62" y1="971.30" x2="538.62" y2="976.50" stroke="#000" stroke-width="1.4"/>
<text x="538.62" y="990.40" text-anchor="middle" class="t">4</text>
<line x1="578.78" y1="971.30" x2="578.78" y2="976.50" stroke="#000" stroke-width="1.4"/>
<text x="578.78" y="990.40" text-anchor="middle" class="t">6</text>
<line x1="618.94" y1="971.30" x2="618.94" y2="976.50" stroke="#000" stroke-width="1.4"/>
<text x="618.94" y="990.40" text-anchor="middle" class="t">8</text>
<line x1="659.10" y1="971.30" x2="659.10" y2="976.50" stroke="#000" stroke-width="1.4"/>
<text x="659.10" y="990.40" text-anchor="middle" class="t">10</text>
<line x1="699.26" y1="971.30" x2="699.26" y2="976.50" stroke="#000" stroke-width="1.4"/>
<text x="699.26" y="990.40" text-anchor="middle" class="t">12</text>
<line x1="739.42" y1="971.30" x2="739.42" y2="976.50" stroke="#000" stroke-width="1.4"/>
<text x="739.42" y="990.40" text-anchor="middle" class="t">14</text>
<line x1="779.58" y1="971.30" x2="779.58" y2="976.50" stroke="#000" stroke-width="1.4"/>
<text x="779.58" y="990.40" text-anchor="middle" class="t">16</text>
<line x1="454.00" y1="951.10" x2="459.00" y2="951.10" stroke="#000" stroke-width="1.4"/>
<text x="450.40" y="955.60" text-anchor="end" class="t">0</text>
<line x1="454.00" y1="903.52" x2="459.00" y2="903.52" stroke="#000" stroke-width="1.4"/>
<text x="450.40" y="908.02" text-anchor="end" class="t">50</text>
<line x1="454.00" y1="855.95" x2="459.00" y2="855.95" stroke="#000" stroke-width="1.4"/>
<text x="450.40" y="860.45" text-anchor="end" class="t">100</text>
<line x1="454.00" y1="808.38" x2="459.00" y2="808.38" stroke="#000" stroke-width="1.4"/>
<text x="450.40" y="812.88" text-anchor="end" class="t">150</text>
<line x1="454.00" y1="760.80" x2="459.00" y2="760.80" stroke="#000" stroke-width="1.4"/>
<text x="450.40" y="765.30" text-anchor="end" class="t">200</text>
<line x1="454.00" y1="713.23" x2="459.00" y2="713.23" stroke="#000" stroke-width="1.4"/>
<text x="450.40" y="717.73" text-anchor="end" class="t">250</text>
<line x1="454.00" y1="665.65" x2="459.00" y2="665.65" stroke="#000" stroke-width="1.4"/>
<text x="450.40" y="670.15" text-anchor="end" class="t">300</text>
<line x1="454.00" y1="618.08" x2="459.00" y2="618.08" stroke="#000" stroke-width="1.4"/>
<text x="450.40" y="622.58" text-anchor="end" class="t">350</text>
<line x1="454.00" y1="570.50" x2="459.00" y2="570.50" stroke="#000" stroke-width="1.4"/>
<text x="450.40" y="575.00" text-anchor="end" class="t">400</text>
<text x="618.09" y="1011.90" text-anchor="middle" class="b">Minutes</text>
<text transform="translate(415.60,757.55) rotate(-90)" text-anchor="middle" class="b">mV</text>
<text x="401.70" y="532.70" class="L">d</text>
<line x1="679.98" y1="951.40" x2="730.18" y2="951.40" stroke="#777" stroke-width="1"/>
<path d="M679.98,952.30 L684.68,960.30 L675.28,960.30 Z" fill="#fff" stroke="#000" stroke-width="1.15"/>
<path d="M730.18,952.30 L734.88,960.30 L725.48,960.30 Z" fill="#fff" stroke="#000" stroke-width="1.15"/>
<path d="M709.90,951.90 L713.90,955.50 L709.90,959.10 L705.90,955.50 Z" fill="#fff" stroke="#000" stroke-width="1.15"/>
<path d="M721.55,951.90 L725.55,955.50 L721.55,959.10 L717.55,955.50 Z" fill="#fff" stroke="#000" stroke-width="1.15"/>
<text x="715.30" y="556.00" text-anchor="middle" class="t">88.8%</text>
<text x="715.30" y="568.70" text-anchor="middle" class="t">88.2%</text>
<text x="715.30" y="581.40" text-anchor="middle" class="t">86.7%</text>
<text x="545.30" y="910.80" text-anchor="end" class="t">-</text>
<text x="545.30" y="924.00" text-anchor="end" class="t">1.2%</text>
<text x="545.30" y="936.60" text-anchor="end" class="t">-</text>
<text x="707.50" y="905.90" text-anchor="end" class="t">9.4%</text>
<text x="707.50" y="918.60" text-anchor="end" class="t">7.0%</text>
<text x="707.50" y="931.40" text-anchor="end" class="t">10.3%</text>
<text x="727.60" y="905.90" text-anchor="start" class="t">1.8%</text>
<text x="727.60" y="918.60" text-anchor="start" class="t">3.6%</text>
<text x="727.60" y="931.40" text-anchor="start" class="t">3.0%</text>
</svg></body></html>
